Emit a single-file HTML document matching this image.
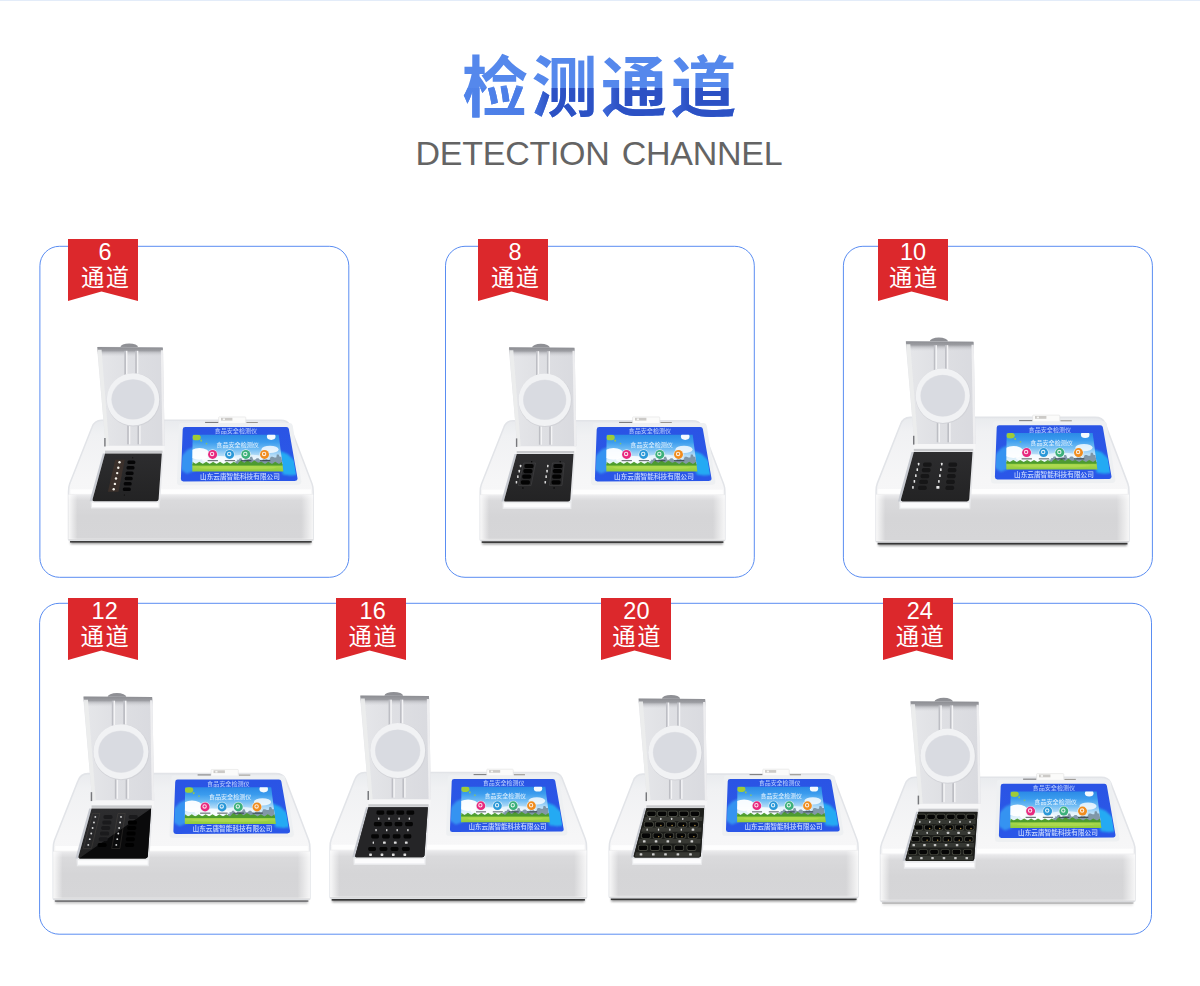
<!DOCTYPE html>
<html lang="zh"><head><meta charset="utf-8"><title>检测通道 DETECTION CHANNEL</title>
<style>
html,body{margin:0;padding:0;background:#fff}
body{width:1200px;height:986px;position:relative;overflow:hidden;font-family:"Liberation Sans",sans-serif}
#topline{position:absolute;left:0;top:0;width:1200px;height:1px;background:#e3ecf9}
#art{position:absolute;left:0;top:0;width:1200px;height:986px}
h1{position:absolute;left:462px;top:45px;width:276px;height:80px;margin:0;font-size:66px;line-height:80px;letter-spacing:3.5px;color:transparent;font-weight:bold;white-space:nowrap;overflow:hidden}
h2{position:absolute;left:0;top:133.5px;width:1200px;height:38px;margin:0;font-weight:normal;font-size:34px;line-height:38px;letter-spacing:-0.28px;color:#646464;white-space:nowrap}
h2 span{position:absolute;top:0}
.tn{position:absolute;width:70px;height:26px;text-align:center;color:#fff;font-size:23.5px;line-height:27px;padding-left:4px;box-sizing:border-box}
.tc{position:absolute;width:70px;height:26px;text-align:center;color:transparent;font-size:23px;line-height:26px;overflow:hidden;white-space:nowrap}
</style></head><body>
<div id="topline"></div>
<svg id="art" width="1200" height="986" viewBox="0 0 1200 986"><defs><linearGradient id="tg0" gradientUnits="userSpaceOnUse" x1="462.1" y1="0" x2="528.1" y2="0"><stop offset="0" stop-color="#5084ea"/><stop offset="1" stop-color="#4b7ce6"/><stop offset="1" stop-color="#4b7ce6"/></linearGradient><linearGradient id="tg1" gradientUnits="userSpaceOnUse" x1="531.6" y1="0" x2="597.6" y2="0"><stop offset="0" stop-color="#4776e2"/><stop offset="0.27" stop-color="#2c51c4"/><stop offset="1" stop-color="#2c51c4"/></linearGradient><linearGradient id="tg2" gradientUnits="userSpaceOnUse" x1="601.1" y1="0" x2="667.1" y2="0"><stop offset="0" stop-color="#416cdc"/><stop offset="0.27" stop-color="#2c51c4"/><stop offset="1" stop-color="#2c51c4"/></linearGradient><linearGradient id="tg3" gradientUnits="userSpaceOnUse" x1="670.6" y1="0" x2="736.6" y2="0"><stop offset="0" stop-color="#3e68da"/><stop offset="0.27" stop-color="#2c51c4"/><stop offset="1" stop-color="#2c51c4"/></linearGradient><clipPath id="tlow"><rect x="440" y="88" width="320" height="40"/></clipPath></defs><g font-family="&quot;Liberation Sans&quot;, &quot;Noto Sans CJK SC&quot;, sans-serif" font-size="66" font-weight="bold" fill="#5588ec"><text x="462.1" y="111.3">检</text><text x="531.6" y="111.3">测</text><text x="601.1" y="111.3">通</text><text x="670.6" y="111.3">道</text></g><g clip-path="url(#tlow)" font-family="&quot;Liberation Sans&quot;, &quot;Noto Sans CJK SC&quot;, sans-serif" font-size="66" font-weight="bold"><text x="462.1" y="111.3" fill="url(#tg0)">检</text><text x="531.6" y="111.3" fill="url(#tg1)">测</text><text x="601.1" y="111.3" fill="url(#tg2)">通</text><text x="670.6" y="111.3" fill="url(#tg3)">道</text></g>
<rect x="39.9" y="246.3" width="308.90000000000003" height="330.99999999999994" rx="19.5" ry="19.5" fill="none" stroke="#5a8df2" stroke-width="1"/>
<rect x="445.5" y="246.3" width="308.79999999999995" height="330.99999999999994" rx="19.5" ry="19.5" fill="none" stroke="#5a8df2" stroke-width="1"/>
<rect x="843.4" y="246.3" width="309.0000000000001" height="330.99999999999994" rx="19.5" ry="19.5" fill="none" stroke="#5a8df2" stroke-width="1"/>
<rect x="39.6" y="603.3" width="1111.9" height="330.9000000000001" rx="19.5" ry="19.5" fill="none" stroke="#5a8df2" stroke-width="1"/>
<defs>
<linearGradient id="gFront" x1="0" y1="0" x2="0" y2="1"><stop offset="0" stop-color="#fafafa"/><stop offset="0.06" stop-color="#e8e8ea"/><stop offset="0.16" stop-color="#dadadc"/><stop offset="0.5" stop-color="#d5d5d7"/><stop offset="0.95" stop-color="#d6d6d8"/><stop offset="0.975" stop-color="#e4e4e5"/><stop offset="1" stop-color="#cfcfd1"/></linearGradient>
<linearGradient id="gEdgeL" x1="0" y1="0" x2="1" y2="0"><stop offset="0" stop-color="#fff" stop-opacity="0.85"/><stop offset="1" stop-color="#fff" stop-opacity="0"/></linearGradient>
<linearGradient id="gEdgeR" x1="0" y1="0" x2="1" y2="0"><stop offset="0" stop-color="#fff" stop-opacity="0"/><stop offset="1" stop-color="#fff" stop-opacity="0.8"/></linearGradient>
<linearGradient id="gTop" x1="0" y1="0" x2="0" y2="1"><stop offset="0" stop-color="#e9ebee"/><stop offset="0.12" stop-color="#f0f1f3"/><stop offset="0.5" stop-color="#f6f6f7"/><stop offset="0.8" stop-color="#f8f8f9"/><stop offset="1" stop-color="#fdfdfd"/></linearGradient>
<linearGradient id="gLid" x1="0" y1="0" x2="1" y2="0"><stop offset="0" stop-color="#e6e7ea"/><stop offset="0.5" stop-color="#dedfe3"/><stop offset="1" stop-color="#d9dadf"/></linearGradient>
<linearGradient id="gWell" x1="0" y1="0" x2="0" y2="1"><stop offset="0" stop-color="#2d2d2f"/><stop offset="1" stop-color="#232324"/></linearGradient>
<linearGradient id="gSky" x1="0" y1="0" x2="0" y2="1"><stop offset="0" stop-color="#2b8ae6"/><stop offset="0.2" stop-color="#3b9cee"/><stop offset="0.38" stop-color="#6cbaf3"/><stop offset="0.55" stop-color="#aed9f7"/><stop offset="0.7" stop-color="#def0fa"/><stop offset="0.78" stop-color="#e6f4f8"/><stop offset="0.8" stop-color="#78be34"/><stop offset="0.87" stop-color="#a6d64a"/><stop offset="1" stop-color="#8ecb3c"/></linearGradient>
<linearGradient id="gBlue" x1="0" y1="0" x2="0" y2="1"><stop offset="0" stop-color="#2a54e5"/><stop offset="0.5" stop-color="#2b57e6"/><stop offset="1" stop-color="#2a56e8"/></linearGradient>
<linearGradient id="gLidTop" x1="0" y1="0" x2="0" y2="1"><stop offset="0" stop-color="#8c8d92"/><stop offset="0.38" stop-color="#9c9da2"/><stop offset="0.55" stop-color="#b9babf" stop-opacity="0.8"/><stop offset="1" stop-color="#dcdde1" stop-opacity="0"/></linearGradient>
<filter id="b1" x="-20%" y="-20%" width="140%" height="140%"><feGaussianBlur stdDeviation="0.6"/></filter>
<filter id="b2" x="-20%" y="-50%" width="140%" height="200%"><feGaussianBlur stdDeviation="1.1"/></filter>
<filter id="b05" x="-20%" y="-20%" width="140%" height="140%"><feGaussianBlur stdDeviation="0.35"/></filter>
</defs><g transform="matrix(1 0 0 1 0 0)"><rect x="70.5" y="539.9" width="240.7" height="4.2" fill="#444" filter="url(#b2)" opacity="0.51"/><rect x="70.0" y="540.3" width="241.7" height="2.3" fill="#1c1c1e" filter="url(#b1)" opacity="0.77"/><path d="M101.5,420.3 L280.5,420.3 Q287.5,420.3 289.7,425.3 L312.0,483.8 Q313.2,486.8 313.2,491.8 L313.2,539.2 Q313.2,540.2 312.2,540.2 L69.5,540.2 Q68.5,540.2 68.5,539.2 L68.5,491.8 Q68.5,486.8 69.7,483.8 L92.0,427.3 Q94.5,420.3 101.5,420.3 Z" fill="url(#gTop)" stroke="#e2e4e8" stroke-width="1.5"/><path d="M68.5,495.8 Q68.5,492.8 72.5,492.8 L309.2,492.8 Q313.2,492.8 313.2,495.8 L313.2,539.4 Q313.2,540.2 312.2,540.2 L69.5,540.2 Q68.5,540.2 68.5,539.4 Z" fill="url(#gFront)"/><rect x="68.5" y="494.8" width="9" height="44.4" fill="url(#gEdgeL)"/><rect x="301.2" y="494.8" width="12" height="44.4" fill="url(#gEdgeR)"/><rect x="70.5" y="489.3" width="240.7" height="4.5" fill="#fff" opacity="0.9" filter="url(#b1)"/></g><g transform="translate(0 0) scale(1)"><rect x="205.1" y="421.9" width="13.5" height="1.5" fill="#7e7e80" filter="url(#b05)"/><rect x="246.4" y="422.2" width="11.4" height="1.6" fill="#86827a" filter="url(#b05)"/><rect x="218.6" y="416.9" width="27.2" height="7.2" rx="0.8" fill="#fbfbfa" stroke="#dcdcdc" stroke-width="0.5"/><rect x="221.0" y="417.8" width="11.4" height="2.8" fill="#b9b6b2" opacity="0.7" filter="url(#b05)"/><rect x="222.8" y="418.4" width="2.2" height="1.7" fill="#f6f6f4"/><polygon points="181.8,426.1 289.8,426.1 298.4,481.8 180.0,482.3" fill="#eef0f2" stroke="#eef0f2" stroke-width="6.0" stroke-linejoin="round"/><polygon points="185.2,429.5 286.4,429.5 295.0,478.4 183.4,478.9" fill="url(#gBlue)" stroke="url(#gBlue)" stroke-width="5.0" stroke-linejoin="round"/><clipPath id="c0"><polygon points="183.3,427.6 288.3,427.6 296.9,480.3 181.5,480.8"/></clipPath><g clip-path="url(#c0)" filter="url(#b2)"><polygon points="180.2,469.4 180.6,456.9 187.5,449.8 195.2,446.6 195.0,470.5 186.9,473.8" fill="#3aa2f4" opacity="0.8"/><polygon points="279.4,450.7 287.6,454.0 296.8,462.6 298.8,474.4 290.9,475.5 282.6,474.5" fill="#25b4f4" opacity="0.9"/></g><clipPath id="p0"><polygon points="192.6,434.8 278.7,434.8 283.4,471.4 192.3,471.4"/></clipPath><polygon points="192.6,434.8 278.7,434.8 283.4,471.4 192.3,471.4" fill="url(#gSky)"/><g clip-path="url(#p0)"><ellipse cx="199.5" cy="453.8" rx="10.3" ry="5.9" fill="#ffffff" opacity="0.95" filter="url(#b1)"/><ellipse cx="219.2" cy="459.7" rx="17.2" ry="3.7" fill="#ffffff" opacity="0.8" filter="url(#b1)"/><ellipse cx="247.7" cy="457.5" rx="17.2" ry="2.9" fill="#ffffff" opacity="0.6" filter="url(#b1)"/><ellipse cx="270.0" cy="449.4" rx="8.6" ry="3.7" fill="#ffffff" opacity="0.8" filter="url(#b1)"/><ellipse cx="271.2" cy="436.6" rx="4.3" ry="3.3" fill="#ffffff" opacity="0.95" filter="url(#b1)"/><ellipse cx="196.5" cy="437.4" rx="4.3" ry="2.9" fill="#a6cf2e" opacity="0.95" filter="url(#b05)"/><ellipse cx="201.2" cy="440.7" rx="1.0" ry="1.1" fill="#9ccc3c" opacity="0.8" filter="url(#b05)"/><ellipse cx="206.5" cy="443.6" rx="0.9" ry="0.9" fill="#9ccc3c" opacity="0.7" filter="url(#b05)"/><polygon points="235.7,464.8 235.4,461.2 237.2,461.2 237.1,459.7 238.9,459.7 239.7,458.2 241.5,458.2 242.6,460.4 244.4,460.4 244.9,456.0 246.7,456.0 247.8,459.0 249.6,459.0 250.3,456.8 252.1,456.8 253.3,459.7 255.0,459.7 256.7,458.2 258.5,458.2 260.5,460.4 262.3,460.4 263.8,457.5 265.6,457.5 267.6,459.7 269.4,459.7 270.8,456.8 272.6,456.8 274.5,457.5 276.3,457.5 276.8,454.6 278.6,454.6 279.7,456.8 281.5,456.8 282.6,464.8" fill="#71889a" opacity="0.85"/><polygon points="192.3,465.5 192.4,461.7 195.8,463.9 199.3,461.7 202.8,463.9 206.2,461.7 209.7,463.9 213.1,461.7 216.6,463.9 220.0,461.7 223.5,463.9 226.9,461.7 230.5,463.9 233.8,461.7 237.4,463.9 240.6,460.6 244.3,462.8 247.5,460.6 251.2,462.8 254.4,460.6 258.1,462.8 261.4,461.7 265.1,463.9 268.3,461.7 272.0,463.9 275.2,461.7 279.0,463.9 282.2,461.7 282.6,465.5" fill="#4a9a2c" opacity="0.95"/><ellipse cx="237.6" cy="467.7" rx="38.7" ry="1.8" fill="#b4dc54" opacity="0.6" filter="url(#b1)"/><circle cx="212.6" cy="454.4" r="5.15" fill="#eaf3f8" opacity="0.85"/><circle cx="212.6" cy="454.4" r="4.48" fill="#e8287e"/><circle cx="212.1" cy="453.9" r="1.70" fill="none" stroke="#fff" stroke-width="1.07" opacity="0.85"/><rect x="207.6" y="460.1" width="10.3" height="1.1" fill="#1d2a30" opacity="0.7"/><circle cx="229.6" cy="454.4" r="5.15" fill="#eaf3f8" opacity="0.85"/><circle cx="229.6" cy="454.4" r="4.48" fill="#2a98d8"/><circle cx="229.2" cy="453.9" r="1.70" fill="none" stroke="#fff" stroke-width="1.07" opacity="0.85"/><rect x="224.8" y="460.1" width="10.3" height="1.1" fill="#1d2a30" opacity="0.7"/><circle cx="245.8" cy="454.4" r="5.15" fill="#eaf3f8" opacity="0.85"/><circle cx="245.8" cy="454.4" r="4.48" fill="#3cb07a"/><circle cx="245.3" cy="453.9" r="1.70" fill="none" stroke="#fff" stroke-width="1.07" opacity="0.85"/><rect x="241.1" y="460.1" width="10.3" height="1.1" fill="#1d2a30" opacity="0.7"/><circle cx="264.5" cy="454.4" r="5.15" fill="#eaf3f8" opacity="0.85"/><circle cx="264.5" cy="454.4" r="4.48" fill="#f08c1e"/><circle cx="264.1" cy="453.9" r="1.70" fill="none" stroke="#fff" stroke-width="1.07" opacity="0.85"/><rect x="260.0" y="460.1" width="10.3" height="1.1" fill="#1d2a30" opacity="0.7"/></g><text transform="translate(214.55 433.40)" font-family="&quot;Liberation Sans&quot;, &quot;Noto Sans CJK SC&quot;, sans-serif" font-size="6.1" font-weight="500" fill="#c4d8ff" opacity="0.85" filter="url(#b05)">食品安全检测仪</text><text transform="translate(216.29 446.88)" font-family="&quot;Liberation Sans&quot;, &quot;Noto Sans CJK SC&quot;, sans-serif" font-size="6.1" font-weight="500" fill="#f4faff" opacity="0.8" filter="url(#b05)">食品安全检测仪</text><text transform="translate(200.00 478.70)" font-family="&quot;Liberation Sans&quot;, &quot;Noto Sans CJK SC&quot;, sans-serif" font-size="6.67" font-weight="500" fill="#dbe7ff" opacity="0.9" filter="url(#b05)">山东云唐智能科技有限公司</text></g><g transform="matrix(1 0 0 1 0 0)"><polygon points="90.5,499.2 160.1,499.2 159.6,508.6 91.0,508.6" fill="#e9eaec" filter="url(#b1)"/><polygon points="92.0,502.8 158.6,502.8 158.6,507.2 92.0,507.2" fill="#fcfcfd" filter="url(#b05)"/><polygon points="102.8,453.5 105.0,453.5 92.0,501.2 89.6,501.2" fill="#c6c9d0"/><polygon points="161.8,453.5 163.4,453.5 160.2,501.2 158.6,501.2" fill="#e6e7ea"/><path d="M105.0,453.5 L161.8,453.5 L158.6,499.2 Q158.4,501.2 156.4,501.2 L94.0,501.2 Q92.0,501.2 92.6,499.2 Z" fill="url(#gWell)"/><polygon points="115.2,459.7 124.8,459.7 118.5,491.7 107.9,491.7" fill="#3b302b"/><circle cx="119.5" cy="462.3" r="1.2" fill="#f5f1ea" opacity="1"/><rect x="127.4" y="460.6" width="8.0" height="3.5" rx="1.5" fill="#050506" opacity="1"/><circle cx="118.3" cy="467.7" r="1.2" fill="#f5f1ea" opacity="1"/><rect x="126.5" y="466.0" width="8.0" height="3.5" rx="1.5" fill="#050506" opacity="1"/><circle cx="117.2" cy="473.1" r="1.2" fill="#f5f1ea" opacity="1"/><rect x="125.6" y="471.4" width="8.0" height="3.5" rx="1.5" fill="#050506" opacity="1"/><circle cx="116.0" cy="478.5" r="1.2" fill="#f5f1ea" opacity="1"/><rect x="124.7" y="476.7" width="8.0" height="3.5" rx="1.5" fill="#050506" opacity="1"/><circle cx="114.9" cy="483.9" r="1.2" fill="#f5f1ea" opacity="1"/><rect x="123.7" y="482.1" width="8.0" height="3.5" rx="1.5" fill="#050506" opacity="1"/><circle cx="113.7" cy="489.3" r="1.2" fill="#f5f1ea" opacity="1"/><rect x="122.8" y="487.5" width="8.0" height="3.5" rx="1.5" fill="#050506" opacity="1"/><circle cx="132.7" cy="457.8" r="0.5" fill="#0a0a0a" opacity="1"/><circle cx="124.4" cy="495.0" r="0.6" fill="#0a0a0a" opacity="1"/><polygon points="105.3,444.5 164.6,444.5 164.2,452.6 105.0,452.6" fill="#f6f6f7"/><rect x="105" y="450.6" width="57.5" height="2.4" fill="#c9cacd" filter="url(#b05)"/><ellipse cx="129.2" cy="347.4" rx="8.9" ry="4.0" fill="#8f9095"/><path d="M97.1,348.3 Q97.1,346.8 98.6,346.8 L161.5,347.3 Q163.0,347.3 163.0,348.8 L164.7,445.8 L105.6,445.8 Z" fill="url(#gLid)"/><polygon points="97.3,346.9 162.8,347.4 163.2,356.8 98.1,356.3" fill="url(#gLidTop)"/><polygon points="97.6,349.8 101.6,349.8 109.1,445.8 105.6,445.8" fill="#eceded" opacity="0.9"/><polygon points="160.8,350.3 163.0,350.3 164.7,445.8 162.5,445.8" fill="#f0f0f2" opacity="0.9"/><rect x="124.3" y="350.8" width="1.7" height="25.4" fill="#bdbec4"/><rect x="126.0" y="350.8" width="1.4" height="25.4" fill="#f4f4f6"/><rect x="135.2" y="350.8" width="1.7" height="25.4" fill="#bdbec4"/><rect x="136.9" y="350.8" width="1.4" height="25.4" fill="#f4f4f6"/><rect x="127.2" y="424.1" width="1.7" height="20.2" fill="#bdbec4"/><rect x="128.9" y="424.1" width="1.4" height="20.2" fill="#f4f4f6"/><rect x="137.5" y="424.1" width="1.7" height="20.2" fill="#bdbec4"/><rect x="139.2" y="424.1" width="1.4" height="20.2" fill="#f4f4f6"/><ellipse cx="133.4" cy="399.9" rx="26.7" ry="26.7" fill="#d2d3d8"/><ellipse cx="133.0" cy="399.4" rx="26.2" ry="26.2" fill="#f1f2f4"/><ellipse cx="133.0" cy="399.4" rx="21.7" ry="20.2" fill="#e4e5e9"/><ellipse cx="133.0" cy="399.4" rx="21.3" ry="19.8" fill="#d9dbe1"/><rect x="104.2" y="438" width="1.4" height="8.5" fill="#77787c"/></g><g transform="matrix(1 0 0 1 411.7 0.4)"><rect x="70.5" y="539.9" width="240.7" height="4.2" fill="#444" filter="url(#b2)" opacity="0.51"/><rect x="70.0" y="540.3" width="241.7" height="2.3" fill="#1c1c1e" filter="url(#b1)" opacity="0.77"/><path d="M101.5,420.3 L280.5,420.3 Q287.5,420.3 289.7,425.3 L312.0,483.8 Q313.2,486.8 313.2,491.8 L313.2,539.2 Q313.2,540.2 312.2,540.2 L69.5,540.2 Q68.5,540.2 68.5,539.2 L68.5,491.8 Q68.5,486.8 69.7,483.8 L92.0,427.3 Q94.5,420.3 101.5,420.3 Z" fill="url(#gTop)" stroke="#e2e4e8" stroke-width="1.5"/><path d="M68.5,495.8 Q68.5,492.8 72.5,492.8 L309.2,492.8 Q313.2,492.8 313.2,495.8 L313.2,539.4 Q313.2,540.2 312.2,540.2 L69.5,540.2 Q68.5,540.2 68.5,539.4 Z" fill="url(#gFront)"/><rect x="68.5" y="494.8" width="9" height="44.4" fill="url(#gEdgeL)"/><rect x="301.2" y="494.8" width="12" height="44.4" fill="url(#gEdgeR)"/><rect x="70.5" y="489.3" width="240.7" height="4.5" fill="#fff" opacity="0.9" filter="url(#b1)"/></g><g transform="translate(414 0) scale(1)"><rect x="205.1" y="421.9" width="13.5" height="1.5" fill="#7e7e80" filter="url(#b05)"/><rect x="246.4" y="422.2" width="11.4" height="1.6" fill="#86827a" filter="url(#b05)"/><rect x="218.6" y="416.9" width="27.2" height="7.2" rx="0.8" fill="#fbfbfa" stroke="#dcdcdc" stroke-width="0.5"/><rect x="221.0" y="417.8" width="11.4" height="2.8" fill="#b9b6b2" opacity="0.7" filter="url(#b05)"/><rect x="222.8" y="418.4" width="2.2" height="1.7" fill="#f6f6f4"/><polygon points="181.8,426.1 289.8,426.1 298.4,481.8 180.0,482.3" fill="#eef0f2" stroke="#eef0f2" stroke-width="6.0" stroke-linejoin="round"/><polygon points="185.2,429.5 286.4,429.5 295.0,478.4 183.4,478.9" fill="url(#gBlue)" stroke="url(#gBlue)" stroke-width="5.0" stroke-linejoin="round"/><clipPath id="c1"><polygon points="183.3,427.6 288.3,427.6 296.9,480.3 181.5,480.8"/></clipPath><g clip-path="url(#c1)" filter="url(#b2)"><polygon points="180.2,469.4 180.6,456.9 187.5,449.8 195.2,446.6 195.0,470.5 186.9,473.8" fill="#3aa2f4" opacity="0.8"/><polygon points="279.4,450.7 287.6,454.0 296.8,462.6 298.8,474.4 290.9,475.5 282.6,474.5" fill="#25b4f4" opacity="0.9"/></g><clipPath id="p1"><polygon points="192.6,434.8 278.7,434.8 283.4,471.4 192.3,471.4"/></clipPath><polygon points="192.6,434.8 278.7,434.8 283.4,471.4 192.3,471.4" fill="url(#gSky)"/><g clip-path="url(#p1)"><ellipse cx="199.5" cy="453.8" rx="10.3" ry="5.9" fill="#ffffff" opacity="0.95" filter="url(#b1)"/><ellipse cx="219.2" cy="459.7" rx="17.2" ry="3.7" fill="#ffffff" opacity="0.8" filter="url(#b1)"/><ellipse cx="247.7" cy="457.5" rx="17.2" ry="2.9" fill="#ffffff" opacity="0.6" filter="url(#b1)"/><ellipse cx="270.0" cy="449.4" rx="8.6" ry="3.7" fill="#ffffff" opacity="0.8" filter="url(#b1)"/><ellipse cx="271.2" cy="436.6" rx="4.3" ry="3.3" fill="#ffffff" opacity="0.95" filter="url(#b1)"/><ellipse cx="196.5" cy="437.4" rx="4.3" ry="2.9" fill="#a6cf2e" opacity="0.95" filter="url(#b05)"/><ellipse cx="201.2" cy="440.7" rx="1.0" ry="1.1" fill="#9ccc3c" opacity="0.8" filter="url(#b05)"/><ellipse cx="206.5" cy="443.6" rx="0.9" ry="0.9" fill="#9ccc3c" opacity="0.7" filter="url(#b05)"/><polygon points="235.7,464.8 235.4,461.2 237.2,461.2 237.1,459.7 238.9,459.7 239.7,458.2 241.5,458.2 242.6,460.4 244.4,460.4 244.9,456.0 246.7,456.0 247.8,459.0 249.6,459.0 250.3,456.8 252.1,456.8 253.3,459.7 255.0,459.7 256.7,458.2 258.5,458.2 260.5,460.4 262.3,460.4 263.8,457.5 265.6,457.5 267.6,459.7 269.4,459.7 270.8,456.8 272.6,456.8 274.5,457.5 276.3,457.5 276.8,454.6 278.6,454.6 279.7,456.8 281.5,456.8 282.6,464.8" fill="#71889a" opacity="0.85"/><polygon points="192.3,465.5 192.4,461.7 195.8,463.9 199.3,461.7 202.8,463.9 206.2,461.7 209.7,463.9 213.1,461.7 216.6,463.9 220.0,461.7 223.5,463.9 226.9,461.7 230.5,463.9 233.8,461.7 237.4,463.9 240.6,460.6 244.3,462.8 247.5,460.6 251.2,462.8 254.4,460.6 258.1,462.8 261.4,461.7 265.1,463.9 268.3,461.7 272.0,463.9 275.2,461.7 279.0,463.9 282.2,461.7 282.6,465.5" fill="#4a9a2c" opacity="0.95"/><ellipse cx="237.6" cy="467.7" rx="38.7" ry="1.8" fill="#b4dc54" opacity="0.6" filter="url(#b1)"/><circle cx="212.6" cy="454.4" r="5.15" fill="#eaf3f8" opacity="0.85"/><circle cx="212.6" cy="454.4" r="4.48" fill="#e8287e"/><circle cx="212.1" cy="453.9" r="1.70" fill="none" stroke="#fff" stroke-width="1.07" opacity="0.85"/><rect x="207.6" y="460.1" width="10.3" height="1.1" fill="#1d2a30" opacity="0.7"/><circle cx="229.6" cy="454.4" r="5.15" fill="#eaf3f8" opacity="0.85"/><circle cx="229.6" cy="454.4" r="4.48" fill="#2a98d8"/><circle cx="229.2" cy="453.9" r="1.70" fill="none" stroke="#fff" stroke-width="1.07" opacity="0.85"/><rect x="224.8" y="460.1" width="10.3" height="1.1" fill="#1d2a30" opacity="0.7"/><circle cx="245.8" cy="454.4" r="5.15" fill="#eaf3f8" opacity="0.85"/><circle cx="245.8" cy="454.4" r="4.48" fill="#3cb07a"/><circle cx="245.3" cy="453.9" r="1.70" fill="none" stroke="#fff" stroke-width="1.07" opacity="0.85"/><rect x="241.1" y="460.1" width="10.3" height="1.1" fill="#1d2a30" opacity="0.7"/><circle cx="264.5" cy="454.4" r="5.15" fill="#eaf3f8" opacity="0.85"/><circle cx="264.5" cy="454.4" r="4.48" fill="#f08c1e"/><circle cx="264.1" cy="453.9" r="1.70" fill="none" stroke="#fff" stroke-width="1.07" opacity="0.85"/><rect x="260.0" y="460.1" width="10.3" height="1.1" fill="#1d2a30" opacity="0.7"/></g><text transform="translate(214.55 433.40)" font-family="&quot;Liberation Sans&quot;, &quot;Noto Sans CJK SC&quot;, sans-serif" font-size="6.1" font-weight="500" fill="#c4d8ff" opacity="0.85" filter="url(#b05)">食品安全检测仪</text><text transform="translate(216.29 446.88)" font-family="&quot;Liberation Sans&quot;, &quot;Noto Sans CJK SC&quot;, sans-serif" font-size="6.1" font-weight="500" fill="#f4faff" opacity="0.8" filter="url(#b05)">食品安全检测仪</text><text transform="translate(200.00 478.70)" font-family="&quot;Liberation Sans&quot;, &quot;Noto Sans CJK SC&quot;, sans-serif" font-size="6.67" font-weight="500" fill="#dbe7ff" opacity="0.9" filter="url(#b05)">山东云唐智能科技有限公司</text></g><g transform="matrix(1 0 0 1 411.7 0.4)"><polygon points="90.5,499.2 160.1,499.2 159.6,508.6 91.0,508.6" fill="#e9eaec" filter="url(#b1)"/><polygon points="92.0,502.8 158.6,502.8 158.6,507.2 92.0,507.2" fill="#fcfcfd" filter="url(#b05)"/><polygon points="102.8,453.5 105.0,453.5 92.0,501.2 89.6,501.2" fill="#c6c9d0"/><polygon points="161.8,453.5 163.4,453.5 160.2,501.2 158.6,501.2" fill="#e6e7ea"/><path d="M105.0,453.5 L161.8,453.5 L158.6,499.2 Q158.4,501.2 156.4,501.2 L94.0,501.2 Q92.0,501.2 92.6,499.2 Z" fill="url(#gWell)"/><polygon points="112.1,462.6 123.8,462.6 119.4,485.0 106.7,485.0" fill="none" stroke="#4a4a4c" stroke-width="0.5"/><rect x="112.8" y="463.5" width="9.0" height="4.2" rx="1.6" fill="#030303" opacity="1"/><rect x="108.1" y="464.3" width="1.5" height="2.6" rx="0.5" fill="#f2f2f2" opacity="0.9"/><rect x="111.7" y="468.6" width="9.0" height="4.2" rx="1.6" fill="#030303" opacity="1"/><rect x="106.8" y="469.4" width="1.5" height="2.6" rx="0.5" fill="#f2f2f2" opacity="0.9"/><rect x="110.5" y="474.1" width="9.0" height="4.2" rx="1.6" fill="#030303" opacity="1"/><rect x="105.4" y="474.9" width="1.5" height="2.6" rx="0.5" fill="#f2f2f2" opacity="0.9"/><rect x="109.2" y="479.8" width="9.0" height="4.2" rx="1.6" fill="#030303" opacity="1"/><rect x="104.0" y="480.6" width="1.5" height="2.6" rx="0.5" fill="#f2f2f2" opacity="0.9"/><circle cx="120.0" cy="461.4" r="0.7" fill="#050505" opacity="1"/><circle cx="111.2" cy="487.6" r="0.8" fill="#050505" opacity="1"/><polygon points="140.8,462.6 152.5,462.6 150.3,485.0 137.7,485.0" fill="none" stroke="#4a4a4c" stroke-width="0.5"/><rect x="141.8" y="463.5" width="9.0" height="4.2" rx="1.6" fill="#030303" opacity="1"/><rect x="135.3" y="464.3" width="1.5" height="2.6" rx="0.5" fill="#f2f2f2" opacity="0.9"/><rect x="141.2" y="468.6" width="9.0" height="4.2" rx="1.6" fill="#030303" opacity="1"/><rect x="134.6" y="469.4" width="1.5" height="2.6" rx="0.5" fill="#f2f2f2" opacity="0.9"/><rect x="140.5" y="474.1" width="9.0" height="4.2" rx="1.6" fill="#030303" opacity="1"/><rect x="133.7" y="474.9" width="1.5" height="2.6" rx="0.5" fill="#f2f2f2" opacity="0.9"/><rect x="139.9" y="479.8" width="9.0" height="4.2" rx="1.6" fill="#030303" opacity="1"/><rect x="132.8" y="480.6" width="1.5" height="2.6" rx="0.5" fill="#f2f2f2" opacity="0.9"/><circle cx="148.5" cy="461.4" r="0.7" fill="#050505" opacity="1"/><circle cx="142.4" cy="487.6" r="0.8" fill="#050505" opacity="1"/><polygon points="105.3,444.5 164.6,444.5 164.2,452.6 105.0,452.6" fill="#f6f6f7"/><rect x="105" y="450.6" width="57.5" height="2.4" fill="#c9cacd" filter="url(#b05)"/><ellipse cx="129.2" cy="347.4" rx="8.9" ry="4.0" fill="#8f9095"/><path d="M97.1,348.3 Q97.1,346.8 98.6,346.8 L161.5,347.3 Q163.0,347.3 163.0,348.8 L164.7,445.8 L105.6,445.8 Z" fill="url(#gLid)"/><polygon points="97.3,346.9 162.8,347.4 163.2,356.8 98.1,356.3" fill="url(#gLidTop)"/><polygon points="97.6,349.8 101.6,349.8 109.1,445.8 105.6,445.8" fill="#eceded" opacity="0.9"/><polygon points="160.8,350.3 163.0,350.3 164.7,445.8 162.5,445.8" fill="#f0f0f2" opacity="0.9"/><rect x="124.3" y="350.8" width="1.7" height="25.4" fill="#bdbec4"/><rect x="126.0" y="350.8" width="1.4" height="25.4" fill="#f4f4f6"/><rect x="135.2" y="350.8" width="1.7" height="25.4" fill="#bdbec4"/><rect x="136.9" y="350.8" width="1.4" height="25.4" fill="#f4f4f6"/><rect x="127.2" y="424.1" width="1.7" height="20.2" fill="#bdbec4"/><rect x="128.9" y="424.1" width="1.4" height="20.2" fill="#f4f4f6"/><rect x="137.5" y="424.1" width="1.7" height="20.2" fill="#bdbec4"/><rect x="139.2" y="424.1" width="1.4" height="20.2" fill="#f4f4f6"/><ellipse cx="133.4" cy="399.9" rx="26.7" ry="26.7" fill="#d2d3d8"/><ellipse cx="133.0" cy="399.4" rx="26.2" ry="26.2" fill="#f1f2f4"/><ellipse cx="133.0" cy="399.4" rx="21.7" ry="20.2" fill="#e4e5e9"/><ellipse cx="133.0" cy="399.4" rx="21.3" ry="19.8" fill="#d9dbe1"/><rect x="104.2" y="438" width="1.4" height="8.5" fill="#77787c"/></g><g transform="matrix(1.0335 0 0 1.039 805.3 -19.3)"><rect x="70.5" y="539.9" width="240.7" height="4.2" fill="#444" filter="url(#b2)" opacity="0.54"/><rect x="70.0" y="540.3" width="241.7" height="2.3" fill="#1c1c1e" filter="url(#b1)" opacity="0.81"/><path d="M101.5,420.3 L280.5,420.3 Q287.5,420.3 289.7,425.3 L312.0,483.8 Q313.2,486.8 313.2,491.8 L313.2,539.2 Q313.2,540.2 312.2,540.2 L69.5,540.2 Q68.5,540.2 68.5,539.2 L68.5,491.8 Q68.5,486.8 69.7,483.8 L92.0,427.3 Q94.5,420.3 101.5,420.3 Z" fill="url(#gTop)" stroke="#e2e4e8" stroke-width="1.5"/><path d="M68.5,495.8 Q68.5,492.8 72.5,492.8 L309.2,492.8 Q313.2,492.8 313.2,495.8 L313.2,539.4 Q313.2,540.2 312.2,540.2 L69.5,540.2 Q68.5,540.2 68.5,539.4 Z" fill="url(#gFront)"/><rect x="68.5" y="494.8" width="9" height="44.4" fill="url(#gEdgeL)"/><rect x="301.2" y="494.8" width="12" height="44.4" fill="url(#gEdgeR)"/><rect x="70.5" y="489.3" width="240.7" height="4.5" fill="#fff" opacity="0.9" filter="url(#b1)"/></g><g transform="translate(814 -1.8) scale(1)"><rect x="205.1" y="421.9" width="13.5" height="1.5" fill="#7e7e80" filter="url(#b05)"/><rect x="246.4" y="422.2" width="11.4" height="1.6" fill="#86827a" filter="url(#b05)"/><rect x="218.6" y="416.9" width="27.2" height="7.2" rx="0.8" fill="#fbfbfa" stroke="#dcdcdc" stroke-width="0.5"/><rect x="221.0" y="417.8" width="11.4" height="2.8" fill="#b9b6b2" opacity="0.7" filter="url(#b05)"/><rect x="222.8" y="418.4" width="2.2" height="1.7" fill="#f6f6f4"/><polygon points="181.8,426.1 289.8,426.1 298.4,481.8 180.0,482.3" fill="#eef0f2" stroke="#eef0f2" stroke-width="6.0" stroke-linejoin="round"/><polygon points="185.2,429.5 286.4,429.5 295.0,478.4 183.4,478.9" fill="url(#gBlue)" stroke="url(#gBlue)" stroke-width="5.0" stroke-linejoin="round"/><clipPath id="c2"><polygon points="183.3,427.6 288.3,427.6 296.9,480.3 181.5,480.8"/></clipPath><g clip-path="url(#c2)" filter="url(#b2)"><polygon points="180.2,469.4 180.6,456.9 187.5,449.8 195.2,446.6 195.0,470.5 186.9,473.8" fill="#3aa2f4" opacity="0.8"/><polygon points="279.4,450.7 287.6,454.0 296.8,462.6 298.8,474.4 290.9,475.5 282.6,474.5" fill="#25b4f4" opacity="0.9"/></g><clipPath id="p2"><polygon points="192.6,434.8 278.7,434.8 283.4,471.4 192.3,471.4"/></clipPath><polygon points="192.6,434.8 278.7,434.8 283.4,471.4 192.3,471.4" fill="url(#gSky)"/><g clip-path="url(#p2)"><ellipse cx="199.5" cy="453.8" rx="10.3" ry="5.9" fill="#ffffff" opacity="0.95" filter="url(#b1)"/><ellipse cx="219.2" cy="459.7" rx="17.2" ry="3.7" fill="#ffffff" opacity="0.8" filter="url(#b1)"/><ellipse cx="247.7" cy="457.5" rx="17.2" ry="2.9" fill="#ffffff" opacity="0.6" filter="url(#b1)"/><ellipse cx="270.0" cy="449.4" rx="8.6" ry="3.7" fill="#ffffff" opacity="0.8" filter="url(#b1)"/><ellipse cx="271.2" cy="436.6" rx="4.3" ry="3.3" fill="#ffffff" opacity="0.95" filter="url(#b1)"/><ellipse cx="196.5" cy="437.4" rx="4.3" ry="2.9" fill="#a6cf2e" opacity="0.95" filter="url(#b05)"/><ellipse cx="201.2" cy="440.7" rx="1.0" ry="1.1" fill="#9ccc3c" opacity="0.8" filter="url(#b05)"/><ellipse cx="206.5" cy="443.6" rx="0.9" ry="0.9" fill="#9ccc3c" opacity="0.7" filter="url(#b05)"/><polygon points="235.7,464.8 235.4,461.2 237.2,461.2 237.1,459.7 238.9,459.7 239.7,458.2 241.5,458.2 242.6,460.4 244.4,460.4 244.9,456.0 246.7,456.0 247.8,459.0 249.6,459.0 250.3,456.8 252.1,456.8 253.3,459.7 255.0,459.7 256.7,458.2 258.5,458.2 260.5,460.4 262.3,460.4 263.8,457.5 265.6,457.5 267.6,459.7 269.4,459.7 270.8,456.8 272.6,456.8 274.5,457.5 276.3,457.5 276.8,454.6 278.6,454.6 279.7,456.8 281.5,456.8 282.6,464.8" fill="#71889a" opacity="0.85"/><polygon points="192.3,465.5 192.4,461.7 195.8,463.9 199.3,461.7 202.8,463.9 206.2,461.7 209.7,463.9 213.1,461.7 216.6,463.9 220.0,461.7 223.5,463.9 226.9,461.7 230.5,463.9 233.8,461.7 237.4,463.9 240.6,460.6 244.3,462.8 247.5,460.6 251.2,462.8 254.4,460.6 258.1,462.8 261.4,461.7 265.1,463.9 268.3,461.7 272.0,463.9 275.2,461.7 279.0,463.9 282.2,461.7 282.6,465.5" fill="#4a9a2c" opacity="0.95"/><ellipse cx="237.6" cy="467.7" rx="38.7" ry="1.8" fill="#b4dc54" opacity="0.6" filter="url(#b1)"/><circle cx="212.6" cy="454.4" r="5.15" fill="#eaf3f8" opacity="0.85"/><circle cx="212.6" cy="454.4" r="4.48" fill="#e8287e"/><circle cx="212.1" cy="453.9" r="1.70" fill="none" stroke="#fff" stroke-width="1.07" opacity="0.85"/><rect x="207.6" y="460.1" width="10.3" height="1.1" fill="#1d2a30" opacity="0.7"/><circle cx="229.6" cy="454.4" r="5.15" fill="#eaf3f8" opacity="0.85"/><circle cx="229.6" cy="454.4" r="4.48" fill="#2a98d8"/><circle cx="229.2" cy="453.9" r="1.70" fill="none" stroke="#fff" stroke-width="1.07" opacity="0.85"/><rect x="224.8" y="460.1" width="10.3" height="1.1" fill="#1d2a30" opacity="0.7"/><circle cx="245.8" cy="454.4" r="5.15" fill="#eaf3f8" opacity="0.85"/><circle cx="245.8" cy="454.4" r="4.48" fill="#3cb07a"/><circle cx="245.3" cy="453.9" r="1.70" fill="none" stroke="#fff" stroke-width="1.07" opacity="0.85"/><rect x="241.1" y="460.1" width="10.3" height="1.1" fill="#1d2a30" opacity="0.7"/><circle cx="264.5" cy="454.4" r="5.15" fill="#eaf3f8" opacity="0.85"/><circle cx="264.5" cy="454.4" r="4.48" fill="#f08c1e"/><circle cx="264.1" cy="453.9" r="1.70" fill="none" stroke="#fff" stroke-width="1.07" opacity="0.85"/><rect x="260.0" y="460.1" width="10.3" height="1.1" fill="#1d2a30" opacity="0.7"/></g><text transform="translate(214.55 433.40)" font-family="&quot;Liberation Sans&quot;, &quot;Noto Sans CJK SC&quot;, sans-serif" font-size="6.1" font-weight="500" fill="#c4d8ff" opacity="0.85" filter="url(#b05)">食品安全检测仪</text><text transform="translate(216.29 446.88)" font-family="&quot;Liberation Sans&quot;, &quot;Noto Sans CJK SC&quot;, sans-serif" font-size="6.1" font-weight="500" fill="#f4faff" opacity="0.8" filter="url(#b05)">食品安全检测仪</text><text transform="translate(200.00 478.70)" font-family="&quot;Liberation Sans&quot;, &quot;Noto Sans CJK SC&quot;, sans-serif" font-size="6.67" font-weight="500" fill="#dbe7ff" opacity="0.9" filter="url(#b05)">山东云唐智能科技有限公司</text></g><g transform="matrix(1.0335 0 0 1.039 805.3 -19.3)"><polygon points="90.5,499.2 160.1,499.2 159.6,508.6 91.0,508.6" fill="#e9eaec" filter="url(#b1)"/><polygon points="92.0,502.8 158.6,502.8 158.6,507.2 92.0,507.2" fill="#fcfcfd" filter="url(#b05)"/><polygon points="102.8,453.5 105.0,453.5 92.0,501.2 89.6,501.2" fill="#c6c9d0"/><polygon points="161.8,453.5 163.4,453.5 160.2,501.2 158.6,501.2" fill="#e6e7ea"/><path d="M105.0,453.5 L161.8,453.5 L158.6,499.2 Q158.4,501.2 156.4,501.2 L94.0,501.2 Q92.0,501.2 92.6,499.2 Z" fill="url(#gWell)"/><rect x="113.9" y="463.7" width="8.4" height="4.0" rx="1.6" fill="#161617" opacity="1"/><rect x="108.9" y="463.9" width="1.5" height="2.6" rx="0.5" fill="#f2f2f2" opacity="0.95"/><rect x="112.8" y="469.0" width="8.4" height="4.0" rx="1.6" fill="#161617" opacity="1"/><rect x="107.6" y="469.2" width="1.5" height="2.6" rx="0.5" fill="#f2f2f2" opacity="0.95"/><rect x="111.5" y="474.8" width="8.4" height="4.0" rx="1.6" fill="#161617" opacity="1"/><rect x="106.2" y="475.0" width="1.5" height="2.6" rx="0.5" fill="#f2f2f2" opacity="0.95"/><rect x="110.3" y="480.4" width="8.4" height="4.0" rx="1.6" fill="#161617" opacity="1"/><rect x="104.8" y="480.6" width="1.5" height="2.6" rx="0.5" fill="#f2f2f2" opacity="0.95"/><rect x="109.1" y="486.2" width="8.4" height="4.0" rx="1.6" fill="#161617" opacity="1"/><rect x="103.4" y="486.4" width="1.5" height="2.6" rx="0.5" fill="#f2f2f2" opacity="0.95"/><rect x="138.5" y="463.7" width="8.4" height="4.0" rx="1.6" fill="#161617" opacity="1"/><rect x="131.3" y="463.9" width="1.5" height="2.6" rx="0.5" fill="#f2f2f2" opacity="0.95"/><rect x="137.8" y="469.0" width="8.4" height="4.0" rx="1.6" fill="#161617" opacity="1"/><rect x="130.4" y="469.2" width="1.5" height="2.6" rx="0.5" fill="#f2f2f2" opacity="0.95"/><rect x="137.1" y="474.8" width="8.4" height="4.0" rx="1.6" fill="#161617" opacity="1"/><rect x="129.5" y="475.0" width="1.5" height="2.6" rx="0.5" fill="#f2f2f2" opacity="0.95"/><rect x="136.3" y="480.4" width="8.4" height="4.0" rx="1.6" fill="#161617" opacity="1"/><rect x="128.5" y="480.6" width="1.5" height="2.6" rx="0.5" fill="#f2f2f2" opacity="0.95"/><rect x="135.6" y="486.2" width="8.4" height="4.0" rx="1.6" fill="#161617" opacity="1"/><rect x="126.8" y="486.4" width="3.0" height="2.6" rx="0.5" fill="#f2f2f2" opacity="0.95"/><polygon points="105.3,444.5 164.6,444.5 164.2,452.6 105.0,452.6" fill="#f6f6f7"/><rect x="105" y="450.6" width="57.5" height="2.4" fill="#c9cacd" filter="url(#b05)"/><ellipse cx="129.2" cy="347.4" rx="8.9" ry="4.0" fill="#8f9095"/><path d="M97.1,348.3 Q97.1,346.8 98.6,346.8 L161.5,347.3 Q163.0,347.3 163.0,348.8 L164.7,445.8 L105.6,445.8 Z" fill="url(#gLid)"/><polygon points="97.3,346.9 162.8,347.4 163.2,356.8 98.1,356.3" fill="url(#gLidTop)"/><polygon points="97.6,349.8 101.6,349.8 109.1,445.8 105.6,445.8" fill="#eceded" opacity="0.9"/><polygon points="160.8,350.3 163.0,350.3 164.7,445.8 162.5,445.8" fill="#f0f0f2" opacity="0.9"/><rect x="124.3" y="350.8" width="1.7" height="25.4" fill="#bdbec4"/><rect x="126.0" y="350.8" width="1.4" height="25.4" fill="#f4f4f6"/><rect x="135.2" y="350.8" width="1.7" height="25.4" fill="#bdbec4"/><rect x="136.9" y="350.8" width="1.4" height="25.4" fill="#f4f4f6"/><rect x="127.2" y="424.1" width="1.7" height="20.2" fill="#bdbec4"/><rect x="128.9" y="424.1" width="1.4" height="20.2" fill="#f4f4f6"/><rect x="137.5" y="424.1" width="1.7" height="20.2" fill="#bdbec4"/><rect x="139.2" y="424.1" width="1.4" height="20.2" fill="#f4f4f6"/><ellipse cx="133.4" cy="399.9" rx="26.7" ry="26.7" fill="#d2d3d8"/><ellipse cx="133.0" cy="399.4" rx="26.2" ry="26.2" fill="#f1f2f4"/><ellipse cx="133.0" cy="399.4" rx="21.7" ry="20.2" fill="#e4e5e9"/><ellipse cx="133.0" cy="399.4" rx="21.3" ry="19.8" fill="#d9dbe1"/><rect x="104.2" y="438" width="1.4" height="8.5" fill="#77787c"/></g><g transform="matrix(1.049 0 0 1.049 -18.6 332.7)"><rect x="70.5" y="539.9" width="240.7" height="4.2" fill="#444" filter="url(#b2)" opacity="0.33"/><rect x="70.0" y="540.3" width="241.7" height="2.3" fill="#1c1c1e" filter="url(#b1)" opacity="0.50"/><path d="M101.5,420.3 L280.5,420.3 Q287.5,420.3 289.7,425.3 L312.0,483.8 Q313.2,486.8 313.2,491.8 L313.2,539.2 Q313.2,540.2 312.2,540.2 L69.5,540.2 Q68.5,540.2 68.5,539.2 L68.5,491.8 Q68.5,486.8 69.7,483.8 L92.0,427.3 Q94.5,420.3 101.5,420.3 Z" fill="url(#gTop)" stroke="#e2e4e8" stroke-width="1.5"/><path d="M68.5,495.8 Q68.5,492.8 72.5,492.8 L309.2,492.8 Q313.2,492.8 313.2,495.8 L313.2,539.4 Q313.2,540.2 312.2,540.2 L69.5,540.2 Q68.5,540.2 68.5,539.4 Z" fill="url(#gFront)"/><rect x="68.5" y="494.8" width="9" height="44.4" fill="url(#gEdgeL)"/><rect x="301.2" y="494.8" width="12" height="44.4" fill="url(#gEdgeR)"/><rect x="70.5" y="489.3" width="240.7" height="4.5" fill="#fff" opacity="0.9" filter="url(#b1)"/></g><g transform="translate(-7.5 352.5) scale(1)"><rect x="205.1" y="421.9" width="13.5" height="1.5" fill="#7e7e80" filter="url(#b05)"/><rect x="246.4" y="422.2" width="11.4" height="1.6" fill="#86827a" filter="url(#b05)"/><rect x="218.6" y="416.9" width="27.2" height="7.2" rx="0.8" fill="#fbfbfa" stroke="#dcdcdc" stroke-width="0.5"/><rect x="221.0" y="417.8" width="11.4" height="2.8" fill="#b9b6b2" opacity="0.7" filter="url(#b05)"/><rect x="222.8" y="418.4" width="2.2" height="1.7" fill="#f6f6f4"/><polygon points="181.8,426.1 289.8,426.1 298.4,481.8 180.0,482.3" fill="#eef0f2" stroke="#eef0f2" stroke-width="6.0" stroke-linejoin="round"/><polygon points="185.2,429.5 286.4,429.5 295.0,478.4 183.4,478.9" fill="url(#gBlue)" stroke="url(#gBlue)" stroke-width="5.0" stroke-linejoin="round"/><clipPath id="c3"><polygon points="183.3,427.6 288.3,427.6 296.9,480.3 181.5,480.8"/></clipPath><g clip-path="url(#c3)" filter="url(#b2)"><polygon points="180.2,469.4 180.6,456.9 187.5,449.8 195.2,446.6 195.0,470.5 186.9,473.8" fill="#3aa2f4" opacity="0.8"/><polygon points="279.4,450.7 287.6,454.0 296.8,462.6 298.8,474.4 290.9,475.5 282.6,474.5" fill="#25b4f4" opacity="0.9"/></g><clipPath id="p3"><polygon points="192.6,434.8 278.7,434.8 283.4,471.4 192.3,471.4"/></clipPath><polygon points="192.6,434.8 278.7,434.8 283.4,471.4 192.3,471.4" fill="url(#gSky)"/><g clip-path="url(#p3)"><ellipse cx="199.5" cy="453.8" rx="10.3" ry="5.9" fill="#ffffff" opacity="0.95" filter="url(#b1)"/><ellipse cx="219.2" cy="459.7" rx="17.2" ry="3.7" fill="#ffffff" opacity="0.8" filter="url(#b1)"/><ellipse cx="247.7" cy="457.5" rx="17.2" ry="2.9" fill="#ffffff" opacity="0.6" filter="url(#b1)"/><ellipse cx="270.0" cy="449.4" rx="8.6" ry="3.7" fill="#ffffff" opacity="0.8" filter="url(#b1)"/><ellipse cx="271.2" cy="436.6" rx="4.3" ry="3.3" fill="#ffffff" opacity="0.95" filter="url(#b1)"/><ellipse cx="196.5" cy="437.4" rx="4.3" ry="2.9" fill="#a6cf2e" opacity="0.95" filter="url(#b05)"/><ellipse cx="201.2" cy="440.7" rx="1.0" ry="1.1" fill="#9ccc3c" opacity="0.8" filter="url(#b05)"/><ellipse cx="206.5" cy="443.6" rx="0.9" ry="0.9" fill="#9ccc3c" opacity="0.7" filter="url(#b05)"/><polygon points="235.7,464.8 235.4,461.2 237.2,461.2 237.1,459.7 238.9,459.7 239.7,458.2 241.5,458.2 242.6,460.4 244.4,460.4 244.9,456.0 246.7,456.0 247.8,459.0 249.6,459.0 250.3,456.8 252.1,456.8 253.3,459.7 255.0,459.7 256.7,458.2 258.5,458.2 260.5,460.4 262.3,460.4 263.8,457.5 265.6,457.5 267.6,459.7 269.4,459.7 270.8,456.8 272.6,456.8 274.5,457.5 276.3,457.5 276.8,454.6 278.6,454.6 279.7,456.8 281.5,456.8 282.6,464.8" fill="#71889a" opacity="0.85"/><polygon points="192.3,465.5 192.4,461.7 195.8,463.9 199.3,461.7 202.8,463.9 206.2,461.7 209.7,463.9 213.1,461.7 216.6,463.9 220.0,461.7 223.5,463.9 226.9,461.7 230.5,463.9 233.8,461.7 237.4,463.9 240.6,460.6 244.3,462.8 247.5,460.6 251.2,462.8 254.4,460.6 258.1,462.8 261.4,461.7 265.1,463.9 268.3,461.7 272.0,463.9 275.2,461.7 279.0,463.9 282.2,461.7 282.6,465.5" fill="#4a9a2c" opacity="0.95"/><ellipse cx="237.6" cy="467.7" rx="38.7" ry="1.8" fill="#b4dc54" opacity="0.6" filter="url(#b1)"/><circle cx="212.6" cy="454.4" r="5.15" fill="#eaf3f8" opacity="0.85"/><circle cx="212.6" cy="454.4" r="4.48" fill="#e8287e"/><circle cx="212.1" cy="453.9" r="1.70" fill="none" stroke="#fff" stroke-width="1.07" opacity="0.85"/><rect x="207.6" y="460.1" width="10.3" height="1.1" fill="#1d2a30" opacity="0.7"/><circle cx="229.6" cy="454.4" r="5.15" fill="#eaf3f8" opacity="0.85"/><circle cx="229.6" cy="454.4" r="4.48" fill="#2a98d8"/><circle cx="229.2" cy="453.9" r="1.70" fill="none" stroke="#fff" stroke-width="1.07" opacity="0.85"/><rect x="224.8" y="460.1" width="10.3" height="1.1" fill="#1d2a30" opacity="0.7"/><circle cx="245.8" cy="454.4" r="5.15" fill="#eaf3f8" opacity="0.85"/><circle cx="245.8" cy="454.4" r="4.48" fill="#3cb07a"/><circle cx="245.3" cy="453.9" r="1.70" fill="none" stroke="#fff" stroke-width="1.07" opacity="0.85"/><rect x="241.1" y="460.1" width="10.3" height="1.1" fill="#1d2a30" opacity="0.7"/><circle cx="264.5" cy="454.4" r="5.15" fill="#eaf3f8" opacity="0.85"/><circle cx="264.5" cy="454.4" r="4.48" fill="#f08c1e"/><circle cx="264.1" cy="453.9" r="1.70" fill="none" stroke="#fff" stroke-width="1.07" opacity="0.85"/><rect x="260.0" y="460.1" width="10.3" height="1.1" fill="#1d2a30" opacity="0.7"/></g><text transform="translate(214.55 433.40)" font-family="&quot;Liberation Sans&quot;, &quot;Noto Sans CJK SC&quot;, sans-serif" font-size="6.1" font-weight="500" fill="#c4d8ff" opacity="0.85" filter="url(#b05)">食品安全检测仪</text><text transform="translate(216.29 446.88)" font-family="&quot;Liberation Sans&quot;, &quot;Noto Sans CJK SC&quot;, sans-serif" font-size="6.1" font-weight="500" fill="#f4faff" opacity="0.8" filter="url(#b05)">食品安全检测仪</text><text transform="translate(200.00 478.70)" font-family="&quot;Liberation Sans&quot;, &quot;Noto Sans CJK SC&quot;, sans-serif" font-size="6.67" font-weight="500" fill="#dbe7ff" opacity="0.9" filter="url(#b05)">山东云唐智能科技有限公司</text></g><g transform="matrix(1.049 0 0 1.049 -18.6 332.7)"><polygon points="90.5,499.2 160.1,499.2 159.6,508.6 91.0,508.6" fill="#e9eaec" filter="url(#b1)"/><polygon points="92.0,502.8 158.6,502.8 158.6,507.2 92.0,507.2" fill="#fcfcfd" filter="url(#b05)"/><polygon points="102.8,453.5 105.0,453.5 92.0,501.2 89.6,501.2" fill="#c6c9d0"/><polygon points="161.8,453.5 163.4,453.5 160.2,501.2 158.6,501.2" fill="#e6e7ea"/><path d="M105.0,453.5 L161.8,453.5 L158.6,499.2 Q158.4,501.2 156.4,501.2 L94.0,501.2 Q92.0,501.2 92.6,499.2 Z" fill="url(#gWell)"/><path d="M161.8,453.5 L158.6,499.2 Q158.4,501.2 156.4,501.2 L93.0,501.2 Z" fill="#0a0a0b"/><polygon points="106.0,458.3 112.9,458.3 104.9,491.7 97.2,491.7" fill="none" stroke="#56524a" stroke-width="0.4" opacity="0.8"/><rect x="116.4" y="459.7" width="8.6" height="3.8" rx="1.5" fill="#1a1a1c" opacity="1"/><circle cx="108.6" cy="461.6" r="0.9" fill="#e9e9e9" opacity="0.9"/><rect x="115.3" y="465.0" width="8.6" height="3.8" rx="1.5" fill="#1a1a1c" opacity="1"/><circle cx="107.3" cy="466.9" r="0.9" fill="#e9e9e9" opacity="0.9"/><rect x="114.2" y="470.2" width="8.6" height="3.8" rx="1.5" fill="#1a1a1c" opacity="1"/><circle cx="106.0" cy="472.1" r="0.9" fill="#e9e9e9" opacity="0.9"/><rect x="113.1" y="475.5" width="8.6" height="3.8" rx="1.5" fill="#1a1a1c" opacity="1"/><circle cx="104.7" cy="477.4" r="0.9" fill="#e9e9e9" opacity="0.9"/><rect x="111.9" y="480.9" width="8.6" height="3.8" rx="1.5" fill="#1a1a1c" opacity="1"/><circle cx="103.3" cy="482.8" r="0.9" fill="#e9e9e9" opacity="0.9"/><rect x="110.8" y="486.4" width="8.6" height="3.8" rx="1.5" fill="#000000" opacity="1"/><circle cx="101.9" cy="488.3" r="0.9" fill="#e9e9e9" opacity="0.9"/><polygon points="130.2,458.3 137.1,458.3 132.0,491.7 124.2,491.7" fill="none" stroke="#56524a" stroke-width="0.4" opacity="0.8"/><rect x="140.4" y="459.7" width="8.6" height="3.8" rx="1.5" fill="#1a1a1c" opacity="1"/><circle cx="133.1" cy="461.6" r="0.9" fill="#e9e9e9" opacity="0.9"/><rect x="139.7" y="465.0" width="8.6" height="3.8" rx="1.5" fill="#000000" opacity="1"/><circle cx="132.2" cy="466.9" r="0.9" fill="#e9e9e9" opacity="0.9"/><rect x="139.0" y="470.2" width="8.6" height="3.8" rx="1.5" fill="#000000" opacity="1"/><circle cx="131.3" cy="472.1" r="0.9" fill="#e9e9e9" opacity="0.9"/><rect x="138.4" y="475.5" width="8.6" height="3.8" rx="1.5" fill="#000000" opacity="1"/><circle cx="130.5" cy="477.4" r="0.9" fill="#e9e9e9" opacity="0.9"/><rect x="137.7" y="480.9" width="8.6" height="3.8" rx="1.5" fill="#000000" opacity="1"/><circle cx="129.5" cy="482.8" r="0.9" fill="#e9e9e9" opacity="0.9"/><rect x="137.0" y="486.4" width="8.6" height="3.8" rx="1.5" fill="#000000" opacity="1"/><circle cx="128.6" cy="488.3" r="0.9" fill="#e9e9e9" opacity="0.9"/><polygon points="105.3,444.5 164.6,444.5 164.2,452.6 105.0,452.6" fill="#f6f6f7"/><rect x="105" y="450.6" width="57.5" height="2.4" fill="#c9cacd" filter="url(#b05)"/><ellipse cx="129.2" cy="347.4" rx="8.9" ry="4.0" fill="#8f9095"/><path d="M97.1,348.3 Q97.1,346.8 98.6,346.8 L161.5,347.3 Q163.0,347.3 163.0,348.8 L164.7,445.8 L105.6,445.8 Z" fill="url(#gLid)"/><polygon points="97.3,346.9 162.8,347.4 163.2,356.8 98.1,356.3" fill="url(#gLidTop)"/><polygon points="97.6,349.8 101.6,349.8 109.1,445.8 105.6,445.8" fill="#eceded" opacity="0.9"/><polygon points="160.8,350.3 163.0,350.3 164.7,445.8 162.5,445.8" fill="#f0f0f2" opacity="0.9"/><rect x="124.3" y="350.8" width="1.7" height="25.4" fill="#bdbec4"/><rect x="126.0" y="350.8" width="1.4" height="25.4" fill="#f4f4f6"/><rect x="135.2" y="350.8" width="1.7" height="25.4" fill="#bdbec4"/><rect x="136.9" y="350.8" width="1.4" height="25.4" fill="#f4f4f6"/><rect x="127.2" y="424.1" width="1.7" height="20.2" fill="#bdbec4"/><rect x="128.9" y="424.1" width="1.4" height="20.2" fill="#f4f4f6"/><rect x="137.5" y="424.1" width="1.7" height="20.2" fill="#bdbec4"/><rect x="139.2" y="424.1" width="1.4" height="20.2" fill="#f4f4f6"/><ellipse cx="133.4" cy="399.9" rx="26.7" ry="26.7" fill="#d2d3d8"/><ellipse cx="133.0" cy="399.4" rx="26.2" ry="26.2" fill="#f1f2f4"/><ellipse cx="133.0" cy="399.4" rx="21.7" ry="20.2" fill="#e4e5e9"/><ellipse cx="133.0" cy="399.4" rx="21.3" ry="19.8" fill="#d9dbe1"/><rect x="104.2" y="438" width="1.4" height="8.5" fill="#77787c"/></g><g transform="matrix(1.048 0 0 1.048 258.3 332.0)"><rect x="70.5" y="539.9" width="240.7" height="4.2" fill="#444" filter="url(#b2)" opacity="0.54"/><rect x="70.0" y="540.3" width="241.7" height="2.3" fill="#1c1c1e" filter="url(#b1)" opacity="0.81"/><path d="M101.5,420.3 L280.5,420.3 Q287.5,420.3 289.7,425.3 L312.0,483.8 Q313.2,486.8 313.2,491.8 L313.2,539.2 Q313.2,540.2 312.2,540.2 L69.5,540.2 Q68.5,540.2 68.5,539.2 L68.5,491.8 Q68.5,486.8 69.7,483.8 L92.0,427.3 Q94.5,420.3 101.5,420.3 Z" fill="url(#gTop)" stroke="#e2e4e8" stroke-width="1.5"/><path d="M68.5,495.8 Q68.5,492.8 72.5,492.8 L309.2,492.8 Q313.2,492.8 313.2,495.8 L313.2,539.4 Q313.2,540.2 312.2,540.2 L69.5,540.2 Q68.5,540.2 68.5,539.4 Z" fill="url(#gFront)"/><rect x="68.5" y="494.8" width="9" height="44.4" fill="url(#gEdgeL)"/><rect x="301.2" y="494.8" width="12" height="44.4" fill="url(#gEdgeR)"/><rect x="70.5" y="489.3" width="240.7" height="4.5" fill="#fff" opacity="0.9" filter="url(#b1)"/></g><g transform="translate(273.6 362.7) scale(0.975)"><rect x="205.1" y="421.9" width="13.5" height="1.5" fill="#7e7e80" filter="url(#b05)"/><rect x="246.4" y="422.2" width="11.4" height="1.6" fill="#86827a" filter="url(#b05)"/><rect x="218.6" y="416.9" width="27.2" height="7.2" rx="0.8" fill="#fbfbfa" stroke="#dcdcdc" stroke-width="0.5"/><rect x="221.0" y="417.8" width="11.4" height="2.8" fill="#b9b6b2" opacity="0.7" filter="url(#b05)"/><rect x="222.8" y="418.4" width="2.2" height="1.7" fill="#f6f6f4"/><polygon points="181.8,426.1 289.8,426.1 298.4,481.8 180.0,482.3" fill="#eef0f2" stroke="#eef0f2" stroke-width="6.0" stroke-linejoin="round"/><polygon points="185.2,429.5 286.4,429.5 295.0,478.4 183.4,478.9" fill="url(#gBlue)" stroke="url(#gBlue)" stroke-width="5.0" stroke-linejoin="round"/><clipPath id="c4"><polygon points="183.3,427.6 288.3,427.6 296.9,480.3 181.5,480.8"/></clipPath><g clip-path="url(#c4)" filter="url(#b2)"><polygon points="180.2,469.4 180.6,456.9 187.5,449.8 195.2,446.6 195.0,470.5 186.9,473.8" fill="#3aa2f4" opacity="0.8"/><polygon points="279.4,450.7 287.6,454.0 296.8,462.6 298.8,474.4 290.9,475.5 282.6,474.5" fill="#25b4f4" opacity="0.9"/></g><clipPath id="p4"><polygon points="192.6,434.8 278.7,434.8 283.4,471.4 192.3,471.4"/></clipPath><polygon points="192.6,434.8 278.7,434.8 283.4,471.4 192.3,471.4" fill="url(#gSky)"/><g clip-path="url(#p4)"><ellipse cx="199.5" cy="453.8" rx="10.3" ry="5.9" fill="#ffffff" opacity="0.95" filter="url(#b1)"/><ellipse cx="219.2" cy="459.7" rx="17.2" ry="3.7" fill="#ffffff" opacity="0.8" filter="url(#b1)"/><ellipse cx="247.7" cy="457.5" rx="17.2" ry="2.9" fill="#ffffff" opacity="0.6" filter="url(#b1)"/><ellipse cx="270.0" cy="449.4" rx="8.6" ry="3.7" fill="#ffffff" opacity="0.8" filter="url(#b1)"/><ellipse cx="271.2" cy="436.6" rx="4.3" ry="3.3" fill="#ffffff" opacity="0.95" filter="url(#b1)"/><ellipse cx="196.5" cy="437.4" rx="4.3" ry="2.9" fill="#a6cf2e" opacity="0.95" filter="url(#b05)"/><ellipse cx="201.2" cy="440.7" rx="1.0" ry="1.1" fill="#9ccc3c" opacity="0.8" filter="url(#b05)"/><ellipse cx="206.5" cy="443.6" rx="0.9" ry="0.9" fill="#9ccc3c" opacity="0.7" filter="url(#b05)"/><polygon points="235.7,464.8 235.4,461.2 237.2,461.2 237.1,459.7 238.9,459.7 239.7,458.2 241.5,458.2 242.6,460.4 244.4,460.4 244.9,456.0 246.7,456.0 247.8,459.0 249.6,459.0 250.3,456.8 252.1,456.8 253.3,459.7 255.0,459.7 256.7,458.2 258.5,458.2 260.5,460.4 262.3,460.4 263.8,457.5 265.6,457.5 267.6,459.7 269.4,459.7 270.8,456.8 272.6,456.8 274.5,457.5 276.3,457.5 276.8,454.6 278.6,454.6 279.7,456.8 281.5,456.8 282.6,464.8" fill="#71889a" opacity="0.85"/><polygon points="192.3,465.5 192.4,461.7 195.8,463.9 199.3,461.7 202.8,463.9 206.2,461.7 209.7,463.9 213.1,461.7 216.6,463.9 220.0,461.7 223.5,463.9 226.9,461.7 230.5,463.9 233.8,461.7 237.4,463.9 240.6,460.6 244.3,462.8 247.5,460.6 251.2,462.8 254.4,460.6 258.1,462.8 261.4,461.7 265.1,463.9 268.3,461.7 272.0,463.9 275.2,461.7 279.0,463.9 282.2,461.7 282.6,465.5" fill="#4a9a2c" opacity="0.95"/><ellipse cx="237.6" cy="467.7" rx="38.7" ry="1.8" fill="#b4dc54" opacity="0.6" filter="url(#b1)"/><circle cx="212.6" cy="454.4" r="5.15" fill="#eaf3f8" opacity="0.85"/><circle cx="212.6" cy="454.4" r="4.48" fill="#e8287e"/><circle cx="212.1" cy="453.9" r="1.70" fill="none" stroke="#fff" stroke-width="1.07" opacity="0.85"/><rect x="207.6" y="460.1" width="10.3" height="1.1" fill="#1d2a30" opacity="0.7"/><circle cx="229.6" cy="454.4" r="5.15" fill="#eaf3f8" opacity="0.85"/><circle cx="229.6" cy="454.4" r="4.48" fill="#2a98d8"/><circle cx="229.2" cy="453.9" r="1.70" fill="none" stroke="#fff" stroke-width="1.07" opacity="0.85"/><rect x="224.8" y="460.1" width="10.3" height="1.1" fill="#1d2a30" opacity="0.7"/><circle cx="245.8" cy="454.4" r="5.15" fill="#eaf3f8" opacity="0.85"/><circle cx="245.8" cy="454.4" r="4.48" fill="#3cb07a"/><circle cx="245.3" cy="453.9" r="1.70" fill="none" stroke="#fff" stroke-width="1.07" opacity="0.85"/><rect x="241.1" y="460.1" width="10.3" height="1.1" fill="#1d2a30" opacity="0.7"/><circle cx="264.5" cy="454.4" r="5.15" fill="#eaf3f8" opacity="0.85"/><circle cx="264.5" cy="454.4" r="4.48" fill="#f08c1e"/><circle cx="264.1" cy="453.9" r="1.70" fill="none" stroke="#fff" stroke-width="1.07" opacity="0.85"/><rect x="260.0" y="460.1" width="10.3" height="1.1" fill="#1d2a30" opacity="0.7"/></g><text transform="translate(214.55 433.40)" font-family="&quot;Liberation Sans&quot;, &quot;Noto Sans CJK SC&quot;, sans-serif" font-size="6.1" font-weight="500" fill="#c4d8ff" opacity="0.85" filter="url(#b05)">食品安全检测仪</text><text transform="translate(216.29 446.88)" font-family="&quot;Liberation Sans&quot;, &quot;Noto Sans CJK SC&quot;, sans-serif" font-size="6.1" font-weight="500" fill="#f4faff" opacity="0.8" filter="url(#b05)">食品安全检测仪</text><text transform="translate(200.00 478.70)" font-family="&quot;Liberation Sans&quot;, &quot;Noto Sans CJK SC&quot;, sans-serif" font-size="6.67" font-weight="500" fill="#dbe7ff" opacity="0.9" filter="url(#b05)">山东云唐智能科技有限公司</text></g><g transform="matrix(1.048 0 0 1.048 258.3 332.0)"><polygon points="90.5,499.2 160.1,499.2 159.6,508.6 91.0,508.6" fill="#e9eaec" filter="url(#b1)"/><polygon points="92.0,502.8 158.6,502.8 158.6,507.2 92.0,507.2" fill="#fcfcfd" filter="url(#b05)"/><polygon points="102.8,453.5 105.0,453.5 92.0,501.2 89.6,501.2" fill="#c6c9d0"/><polygon points="161.8,453.5 163.4,453.5 160.2,501.2 158.6,501.2" fill="#e6e7ea"/><path d="M105.0,453.5 L161.8,453.5 L158.6,499.2 Q158.4,501.2 156.4,501.2 L94.0,501.2 Q92.0,501.2 92.6,499.2 Z" fill="url(#gWell)"/><path d="M105.0,453.5 L161.8,453.5 L158.6,499.2 Q158.4,501.2 156.4,501.2 L94.0,501.2 Q92.0,501.2 92.6,499.2 Z" fill="#252527"/><rect x="112.8" y="456.7" width="7.4" height="4.0" rx="1.4" fill="#050505" opacity="1"/><rect x="114.3" y="463.3" width="1.3" height="2.2" rx="0.5" fill="#f2f2f2" opacity="0.9"/><rect x="122.4" y="456.7" width="7.4" height="4.0" rx="1.4" fill="#050505" opacity="1"/><rect x="124.1" y="463.3" width="1.3" height="2.2" rx="0.5" fill="#f2f2f2" opacity="0.9"/><rect x="131.8" y="456.7" width="7.4" height="4.0" rx="1.4" fill="#050505" opacity="1"/><rect x="133.7" y="463.3" width="1.3" height="2.2" rx="0.5" fill="#f2f2f2" opacity="0.9"/><rect x="141.4" y="456.7" width="7.4" height="4.0" rx="1.4" fill="#050505" opacity="1"/><rect x="143.5" y="463.3" width="1.3" height="2.2" rx="0.5" fill="#f2f2f2" opacity="0.9"/><rect x="110.3" y="467.5" width="7.4" height="4.0" rx="1.4" fill="#050505" opacity="1"/><rect x="111.7" y="474.3" width="1.3" height="2.2" rx="0.5" fill="#f2f2f2" opacity="0.9"/><rect x="120.3" y="467.5" width="7.4" height="4.0" rx="1.4" fill="#050505" opacity="1"/><rect x="121.9" y="474.3" width="1.3" height="2.2" rx="0.5" fill="#f2f2f2" opacity="0.9"/><rect x="130.1" y="467.5" width="7.4" height="4.0" rx="1.4" fill="#050505" opacity="1"/><rect x="131.9" y="474.3" width="1.3" height="2.2" rx="0.5" fill="#f2f2f2" opacity="0.9"/><rect x="140.1" y="467.5" width="7.4" height="4.0" rx="1.4" fill="#050505" opacity="1"/><rect x="142.1" y="474.3" width="1.3" height="2.2" rx="0.5" fill="#f2f2f2" opacity="0.9"/><rect x="107.7" y="479.2" width="7.4" height="4.0" rx="1.4" fill="#050505" opacity="1"/><rect x="109.1" y="486.1" width="1.3" height="2.2" rx="0.5" fill="#f2f2f2" opacity="0.9"/><rect x="118.1" y="479.2" width="7.4" height="4.0" rx="1.4" fill="#050505" opacity="1"/><rect x="119.0" y="486.1" width="2.6" height="2.2" rx="0.5" fill="#f2f2f2" opacity="0.9"/><rect x="128.3" y="479.2" width="7.4" height="4.0" rx="1.4" fill="#050505" opacity="1"/><rect x="129.4" y="486.1" width="2.6" height="2.2" rx="0.5" fill="#f2f2f2" opacity="0.9"/><rect x="138.6" y="479.2" width="7.4" height="4.0" rx="1.4" fill="#050505" opacity="1"/><rect x="139.9" y="486.1" width="2.6" height="2.2" rx="0.5" fill="#f2f2f2" opacity="0.9"/><rect x="104.9" y="491.3" width="7.4" height="4.0" rx="1.4" fill="#050505" opacity="1"/><rect x="105.8" y="497.7" width="2.6" height="2.2" rx="0.5" fill="#f2f2f2" opacity="0.9"/><rect x="115.7" y="491.3" width="7.4" height="4.0" rx="1.4" fill="#050505" opacity="1"/><rect x="116.7" y="497.7" width="2.6" height="2.2" rx="0.5" fill="#f2f2f2" opacity="0.9"/><rect x="126.3" y="491.3" width="7.4" height="4.0" rx="1.4" fill="#050505" opacity="1"/><rect x="127.5" y="497.7" width="2.6" height="2.2" rx="0.5" fill="#f2f2f2" opacity="0.9"/><rect x="137.1" y="491.3" width="7.4" height="4.0" rx="1.4" fill="#050505" opacity="1"/><rect x="138.5" y="497.7" width="2.6" height="2.2" rx="0.5" fill="#f2f2f2" opacity="0.9"/><polygon points="105.3,444.5 164.6,444.5 164.2,452.6 105.0,452.6" fill="#f6f6f7"/><rect x="105" y="450.6" width="57.5" height="2.4" fill="#c9cacd" filter="url(#b05)"/><ellipse cx="129.2" cy="347.4" rx="8.9" ry="4.0" fill="#8f9095"/><path d="M97.1,348.3 Q97.1,346.8 98.6,346.8 L161.5,347.3 Q163.0,347.3 163.0,348.8 L164.7,445.8 L105.6,445.8 Z" fill="url(#gLid)"/><polygon points="97.3,346.9 162.8,347.4 163.2,356.8 98.1,356.3" fill="url(#gLidTop)"/><polygon points="97.6,349.8 101.6,349.8 109.1,445.8 105.6,445.8" fill="#eceded" opacity="0.9"/><polygon points="160.8,350.3 163.0,350.3 164.7,445.8 162.5,445.8" fill="#f0f0f2" opacity="0.9"/><rect x="124.3" y="350.8" width="1.7" height="25.4" fill="#bdbec4"/><rect x="126.0" y="350.8" width="1.4" height="25.4" fill="#f4f4f6"/><rect x="135.2" y="350.8" width="1.7" height="25.4" fill="#bdbec4"/><rect x="136.9" y="350.8" width="1.4" height="25.4" fill="#f4f4f6"/><rect x="127.2" y="424.1" width="1.7" height="20.2" fill="#bdbec4"/><rect x="128.9" y="424.1" width="1.4" height="20.2" fill="#f4f4f6"/><rect x="137.5" y="424.1" width="1.7" height="20.2" fill="#bdbec4"/><rect x="139.2" y="424.1" width="1.4" height="20.2" fill="#f4f4f6"/><ellipse cx="133.4" cy="399.9" rx="26.7" ry="26.7" fill="#d2d3d8"/><ellipse cx="133.0" cy="399.4" rx="26.2" ry="26.2" fill="#f1f2f4"/><ellipse cx="133.0" cy="399.4" rx="21.7" ry="20.2" fill="#e4e5e9"/><ellipse cx="133.0" cy="399.4" rx="21.3" ry="19.8" fill="#d9dbe1"/><rect x="104.2" y="438" width="1.4" height="8.5" fill="#77787c"/></g><g transform="matrix(1.017 0 0 1.03 539.6 341.2)"><rect x="70.5" y="539.9" width="240.7" height="4.2" fill="#444" filter="url(#b2)" opacity="0.54"/><rect x="70.0" y="540.3" width="241.7" height="2.3" fill="#1c1c1e" filter="url(#b1)" opacity="0.81"/><path d="M101.5,420.3 L280.5,420.3 Q287.5,420.3 289.7,425.3 L312.0,483.8 Q313.2,486.8 313.2,491.8 L313.2,539.2 Q313.2,540.2 312.2,540.2 L69.5,540.2 Q68.5,540.2 68.5,539.2 L68.5,491.8 Q68.5,486.8 69.7,483.8 L92.0,427.3 Q94.5,420.3 101.5,420.3 Z" fill="url(#gTop)" stroke="#e2e4e8" stroke-width="1.5"/><path d="M68.5,495.8 Q68.5,492.8 72.5,492.8 L309.2,492.8 Q313.2,492.8 313.2,495.8 L313.2,539.4 Q313.2,540.2 312.2,540.2 L69.5,540.2 Q68.5,540.2 68.5,539.4 Z" fill="url(#gFront)"/><rect x="68.5" y="494.8" width="9" height="44.4" fill="url(#gEdgeL)"/><rect x="301.2" y="494.8" width="12" height="44.4" fill="url(#gEdgeR)"/><rect x="70.5" y="489.3" width="240.7" height="4.5" fill="#fff" opacity="0.9" filter="url(#b1)"/></g><g transform="translate(549.6 362.7) scale(0.975)"><rect x="205.1" y="421.9" width="13.5" height="1.5" fill="#7e7e80" filter="url(#b05)"/><rect x="246.4" y="422.2" width="11.4" height="1.6" fill="#86827a" filter="url(#b05)"/><rect x="218.6" y="416.9" width="27.2" height="7.2" rx="0.8" fill="#fbfbfa" stroke="#dcdcdc" stroke-width="0.5"/><rect x="221.0" y="417.8" width="11.4" height="2.8" fill="#b9b6b2" opacity="0.7" filter="url(#b05)"/><rect x="222.8" y="418.4" width="2.2" height="1.7" fill="#f6f6f4"/><polygon points="181.8,426.1 289.8,426.1 298.4,481.8 180.0,482.3" fill="#eef0f2" stroke="#eef0f2" stroke-width="6.0" stroke-linejoin="round"/><polygon points="185.2,429.5 286.4,429.5 295.0,478.4 183.4,478.9" fill="url(#gBlue)" stroke="url(#gBlue)" stroke-width="5.0" stroke-linejoin="round"/><clipPath id="c5"><polygon points="183.3,427.6 288.3,427.6 296.9,480.3 181.5,480.8"/></clipPath><g clip-path="url(#c5)" filter="url(#b2)"><polygon points="180.2,469.4 180.6,456.9 187.5,449.8 195.2,446.6 195.0,470.5 186.9,473.8" fill="#3aa2f4" opacity="0.8"/><polygon points="279.4,450.7 287.6,454.0 296.8,462.6 298.8,474.4 290.9,475.5 282.6,474.5" fill="#25b4f4" opacity="0.9"/></g><clipPath id="p5"><polygon points="192.6,434.8 278.7,434.8 283.4,471.4 192.3,471.4"/></clipPath><polygon points="192.6,434.8 278.7,434.8 283.4,471.4 192.3,471.4" fill="url(#gSky)"/><g clip-path="url(#p5)"><ellipse cx="199.5" cy="453.8" rx="10.3" ry="5.9" fill="#ffffff" opacity="0.95" filter="url(#b1)"/><ellipse cx="219.2" cy="459.7" rx="17.2" ry="3.7" fill="#ffffff" opacity="0.8" filter="url(#b1)"/><ellipse cx="247.7" cy="457.5" rx="17.2" ry="2.9" fill="#ffffff" opacity="0.6" filter="url(#b1)"/><ellipse cx="270.0" cy="449.4" rx="8.6" ry="3.7" fill="#ffffff" opacity="0.8" filter="url(#b1)"/><ellipse cx="271.2" cy="436.6" rx="4.3" ry="3.3" fill="#ffffff" opacity="0.95" filter="url(#b1)"/><ellipse cx="196.5" cy="437.4" rx="4.3" ry="2.9" fill="#a6cf2e" opacity="0.95" filter="url(#b05)"/><ellipse cx="201.2" cy="440.7" rx="1.0" ry="1.1" fill="#9ccc3c" opacity="0.8" filter="url(#b05)"/><ellipse cx="206.5" cy="443.6" rx="0.9" ry="0.9" fill="#9ccc3c" opacity="0.7" filter="url(#b05)"/><polygon points="235.7,464.8 235.4,461.2 237.2,461.2 237.1,459.7 238.9,459.7 239.7,458.2 241.5,458.2 242.6,460.4 244.4,460.4 244.9,456.0 246.7,456.0 247.8,459.0 249.6,459.0 250.3,456.8 252.1,456.8 253.3,459.7 255.0,459.7 256.7,458.2 258.5,458.2 260.5,460.4 262.3,460.4 263.8,457.5 265.6,457.5 267.6,459.7 269.4,459.7 270.8,456.8 272.6,456.8 274.5,457.5 276.3,457.5 276.8,454.6 278.6,454.6 279.7,456.8 281.5,456.8 282.6,464.8" fill="#71889a" opacity="0.85"/><polygon points="192.3,465.5 192.4,461.7 195.8,463.9 199.3,461.7 202.8,463.9 206.2,461.7 209.7,463.9 213.1,461.7 216.6,463.9 220.0,461.7 223.5,463.9 226.9,461.7 230.5,463.9 233.8,461.7 237.4,463.9 240.6,460.6 244.3,462.8 247.5,460.6 251.2,462.8 254.4,460.6 258.1,462.8 261.4,461.7 265.1,463.9 268.3,461.7 272.0,463.9 275.2,461.7 279.0,463.9 282.2,461.7 282.6,465.5" fill="#4a9a2c" opacity="0.95"/><ellipse cx="237.6" cy="467.7" rx="38.7" ry="1.8" fill="#b4dc54" opacity="0.6" filter="url(#b1)"/><circle cx="212.6" cy="454.4" r="5.15" fill="#eaf3f8" opacity="0.85"/><circle cx="212.6" cy="454.4" r="4.48" fill="#e8287e"/><circle cx="212.1" cy="453.9" r="1.70" fill="none" stroke="#fff" stroke-width="1.07" opacity="0.85"/><rect x="207.6" y="460.1" width="10.3" height="1.1" fill="#1d2a30" opacity="0.7"/><circle cx="229.6" cy="454.4" r="5.15" fill="#eaf3f8" opacity="0.85"/><circle cx="229.6" cy="454.4" r="4.48" fill="#2a98d8"/><circle cx="229.2" cy="453.9" r="1.70" fill="none" stroke="#fff" stroke-width="1.07" opacity="0.85"/><rect x="224.8" y="460.1" width="10.3" height="1.1" fill="#1d2a30" opacity="0.7"/><circle cx="245.8" cy="454.4" r="5.15" fill="#eaf3f8" opacity="0.85"/><circle cx="245.8" cy="454.4" r="4.48" fill="#3cb07a"/><circle cx="245.3" cy="453.9" r="1.70" fill="none" stroke="#fff" stroke-width="1.07" opacity="0.85"/><rect x="241.1" y="460.1" width="10.3" height="1.1" fill="#1d2a30" opacity="0.7"/><circle cx="264.5" cy="454.4" r="5.15" fill="#eaf3f8" opacity="0.85"/><circle cx="264.5" cy="454.4" r="4.48" fill="#f08c1e"/><circle cx="264.1" cy="453.9" r="1.70" fill="none" stroke="#fff" stroke-width="1.07" opacity="0.85"/><rect x="260.0" y="460.1" width="10.3" height="1.1" fill="#1d2a30" opacity="0.7"/></g><text transform="translate(214.55 433.40)" font-family="&quot;Liberation Sans&quot;, &quot;Noto Sans CJK SC&quot;, sans-serif" font-size="6.1" font-weight="500" fill="#c4d8ff" opacity="0.85" filter="url(#b05)">食品安全检测仪</text><text transform="translate(216.29 446.88)" font-family="&quot;Liberation Sans&quot;, &quot;Noto Sans CJK SC&quot;, sans-serif" font-size="6.1" font-weight="500" fill="#f4faff" opacity="0.8" filter="url(#b05)">食品安全检测仪</text><text transform="translate(200.00 478.70)" font-family="&quot;Liberation Sans&quot;, &quot;Noto Sans CJK SC&quot;, sans-serif" font-size="6.67" font-weight="500" fill="#dbe7ff" opacity="0.9" filter="url(#b05)">山东云唐智能科技有限公司</text></g><g transform="matrix(1.017 0 0 1.03 539.6 341.2)"><polygon points="90.5,499.2 160.1,499.2 159.6,508.6 91.0,508.6" fill="#e9eaec" filter="url(#b1)"/><polygon points="92.0,502.8 158.6,502.8 158.6,507.2 92.0,507.2" fill="#fcfcfd" filter="url(#b05)"/><polygon points="102.8,453.5 105.0,453.5 92.0,501.2 89.6,501.2" fill="#c6c9d0"/><polygon points="161.8,453.5 163.4,453.5 160.2,501.2 158.6,501.2" fill="#e6e7ea"/><path d="M105.0,453.5 L161.8,453.5 L158.6,499.2 Q158.4,501.2 156.4,501.2 L94.0,501.2 Q92.0,501.2 92.6,499.2 Z" fill="url(#gWell)"/><path d="M105.0,453.5 L161.8,453.5 L158.6,499.2 Q158.4,501.2 156.4,501.2 L94.0,501.2 Q92.0,501.2 92.6,499.2 Z" fill="#1d1e1b"/><polygon points="104.0,461.6 160.1,461.6 159.8,465.9 102.8,465.9" fill="#3e3f3a" opacity="0.8"/><polygon points="101.2,472.1 159.3,472.1 159.0,476.3 100.0,476.3" fill="#3e3f3a" opacity="0.8"/><polygon points="98.1,483.3 158.5,483.3 158.2,487.6 97.0,487.6" fill="#3e3f3a" opacity="0.8"/><polygon points="94.7,496.2 157.6,496.2 157.3,500.5 93.5,500.5" fill="#3e3f3a" opacity="0.8"/><rect x="105.2" y="455.9" width="9.5" height="5.7" rx="1.6" fill="#55574d" opacity="1"/><rect x="105.8" y="456.5" width="8.3" height="4.5" rx="1.4" fill="#050505" opacity="1"/><rect x="107.7" y="462.7" width="1.3" height="2.2" rx="0.5" fill="#f2f2f2" opacity="0.8"/><rect x="115.8" y="455.9" width="9.5" height="5.7" rx="1.6" fill="#55574d" opacity="1"/><rect x="116.4" y="456.5" width="8.3" height="4.5" rx="1.4" fill="#050505" opacity="1"/><rect x="118.5" y="462.7" width="1.3" height="2.2" rx="0.5" fill="#f2f2f2" opacity="0.8"/><rect x="126.3" y="455.9" width="9.5" height="5.7" rx="1.6" fill="#55574d" opacity="1"/><rect x="126.9" y="456.5" width="8.3" height="4.5" rx="1.4" fill="#050505" opacity="1"/><rect x="129.2" y="462.7" width="1.3" height="2.2" rx="0.5" fill="#f2f2f2" opacity="0.8"/><rect x="137.0" y="455.9" width="9.5" height="5.7" rx="1.6" fill="#55574d" opacity="1"/><rect x="137.6" y="456.5" width="8.3" height="4.5" rx="1.4" fill="#050505" opacity="1"/><rect x="140.1" y="462.7" width="1.3" height="2.2" rx="0.5" fill="#f2f2f2" opacity="0.8"/><rect x="147.9" y="455.9" width="9.5" height="5.7" rx="1.6" fill="#55574d" opacity="1"/><rect x="148.5" y="456.5" width="8.3" height="4.5" rx="1.4" fill="#050505" opacity="1"/><rect x="151.2" y="462.7" width="1.3" height="2.2" rx="0.5" fill="#f2f2f2" opacity="0.8"/><rect x="102.6" y="466.4" width="9.5" height="5.7" rx="1.6" fill="#55574d" opacity="1"/><rect x="103.2" y="467.0" width="8.3" height="4.5" rx="1.4" fill="#050505" opacity="1"/><rect x="105.1" y="473.1" width="1.3" height="2.2" rx="0.5" fill="#f2f2f2" opacity="0.8"/><rect x="113.5" y="466.4" width="9.5" height="5.7" rx="1.6" fill="#55574d" opacity="1"/><rect x="114.1" y="467.0" width="8.3" height="4.5" rx="1.4" fill="#050505" opacity="1"/><circle cx="119.3" cy="470.2" r="0.7" fill="#c9a04a" opacity="0.9"/><rect x="116.3" y="473.1" width="1.3" height="2.2" rx="0.5" fill="#f2f2f2" opacity="0.8"/><rect x="124.5" y="466.4" width="9.5" height="5.7" rx="1.6" fill="#55574d" opacity="1"/><rect x="125.1" y="467.0" width="8.3" height="4.5" rx="1.4" fill="#050505" opacity="1"/><circle cx="130.3" cy="470.2" r="0.7" fill="#c9a04a" opacity="0.9"/><rect x="127.4" y="473.1" width="1.3" height="2.2" rx="0.5" fill="#f2f2f2" opacity="0.8"/><rect x="135.6" y="466.4" width="9.5" height="5.7" rx="1.6" fill="#55574d" opacity="1"/><rect x="136.2" y="467.0" width="8.3" height="4.5" rx="1.4" fill="#050505" opacity="1"/><circle cx="141.4" cy="470.2" r="0.7" fill="#c9a04a" opacity="0.9"/><rect x="138.7" y="473.1" width="1.3" height="2.2" rx="0.5" fill="#f2f2f2" opacity="0.8"/><rect x="146.9" y="466.4" width="9.5" height="5.7" rx="1.6" fill="#55574d" opacity="1"/><rect x="147.5" y="467.0" width="8.3" height="4.5" rx="1.4" fill="#050505" opacity="1"/><circle cx="152.7" cy="470.2" r="0.7" fill="#c9a04a" opacity="0.9"/><rect x="149.5" y="473.1" width="2.6" height="2.2" rx="0.5" fill="#f2f2f2" opacity="0.8"/><rect x="99.9" y="477.2" width="9.5" height="5.7" rx="1.6" fill="#55574d" opacity="1"/><rect x="100.5" y="477.8" width="8.3" height="4.5" rx="1.4" fill="#050505" opacity="1"/><rect x="101.6" y="484.4" width="2.6" height="2.2" rx="0.5" fill="#f2f2f2" opacity="0.8"/><rect x="111.3" y="477.2" width="9.5" height="5.7" rx="1.6" fill="#55574d" opacity="1"/><rect x="111.9" y="477.8" width="8.3" height="4.5" rx="1.4" fill="#050505" opacity="1"/><circle cx="117.1" cy="481.0" r="0.7" fill="#c9a04a" opacity="0.9"/><rect x="113.2" y="484.4" width="2.6" height="2.2" rx="0.5" fill="#f2f2f2" opacity="0.8"/><rect x="122.6" y="477.2" width="9.5" height="5.7" rx="1.6" fill="#55574d" opacity="1"/><rect x="123.2" y="477.8" width="8.3" height="4.5" rx="1.4" fill="#050505" opacity="1"/><circle cx="128.4" cy="481.0" r="0.7" fill="#c9a04a" opacity="0.9"/><rect x="124.8" y="484.4" width="2.6" height="2.2" rx="0.5" fill="#f2f2f2" opacity="0.8"/><rect x="134.1" y="477.2" width="9.5" height="5.7" rx="1.6" fill="#55574d" opacity="1"/><rect x="134.7" y="477.8" width="8.3" height="4.5" rx="1.4" fill="#050505" opacity="1"/><circle cx="140.0" cy="481.0" r="0.7" fill="#c9a04a" opacity="0.9"/><rect x="136.5" y="484.4" width="2.6" height="2.2" rx="0.5" fill="#f2f2f2" opacity="0.8"/><rect x="145.8" y="477.2" width="9.5" height="5.7" rx="1.6" fill="#55574d" opacity="1"/><rect x="146.4" y="477.8" width="8.3" height="4.5" rx="1.4" fill="#050505" opacity="1"/><circle cx="151.7" cy="481.0" r="0.7" fill="#c9a04a" opacity="0.9"/><rect x="148.4" y="484.4" width="2.6" height="2.2" rx="0.5" fill="#f2f2f2" opacity="0.8"/><rect x="96.9" y="489.0" width="9.5" height="5.7" rx="1.6" fill="#55574d" opacity="1"/><rect x="97.5" y="489.6" width="8.3" height="4.5" rx="1.4" fill="#050505" opacity="1"/><rect x="98.4" y="497.2" width="2.6" height="2.2" rx="0.5" fill="#f2f2f2" opacity="0.8"/><rect x="108.7" y="489.0" width="9.5" height="5.7" rx="1.6" fill="#55574d" opacity="1"/><rect x="109.3" y="489.6" width="8.3" height="4.5" rx="1.4" fill="#050505" opacity="1"/><rect x="110.5" y="497.2" width="2.6" height="2.2" rx="0.5" fill="#f2f2f2" opacity="0.8"/><rect x="120.5" y="489.0" width="9.5" height="5.7" rx="1.6" fill="#55574d" opacity="1"/><rect x="121.1" y="489.6" width="8.3" height="4.5" rx="1.4" fill="#050505" opacity="1"/><rect x="122.5" y="497.2" width="2.6" height="2.2" rx="0.5" fill="#f2f2f2" opacity="0.8"/><rect x="132.5" y="489.0" width="9.5" height="5.7" rx="1.6" fill="#55574d" opacity="1"/><rect x="133.1" y="489.6" width="8.3" height="4.5" rx="1.4" fill="#050505" opacity="1"/><rect x="134.7" y="497.2" width="2.6" height="2.2" rx="0.5" fill="#f2f2f2" opacity="0.8"/><rect x="144.6" y="489.0" width="9.5" height="5.7" rx="1.6" fill="#55574d" opacity="1"/><rect x="145.2" y="489.6" width="8.3" height="4.5" rx="1.4" fill="#050505" opacity="1"/><rect x="147.1" y="497.2" width="2.6" height="2.2" rx="0.5" fill="#f2f2f2" opacity="0.8"/><polygon points="105.3,444.5 164.6,444.5 164.2,452.6 105.0,452.6" fill="#f6f6f7"/><rect x="105" y="450.6" width="57.5" height="2.4" fill="#c9cacd" filter="url(#b05)"/><ellipse cx="129.2" cy="347.4" rx="8.9" ry="4.0" fill="#8f9095"/><path d="M97.1,348.3 Q97.1,346.8 98.6,346.8 L161.5,347.3 Q163.0,347.3 163.0,348.8 L164.7,445.8 L105.6,445.8 Z" fill="url(#gLid)"/><polygon points="97.3,346.9 162.8,347.4 163.2,356.8 98.1,356.3" fill="url(#gLidTop)"/><polygon points="97.6,349.8 101.6,349.8 109.1,445.8 105.6,445.8" fill="#eceded" opacity="0.9"/><polygon points="160.8,350.3 163.0,350.3 164.7,445.8 162.5,445.8" fill="#f0f0f2" opacity="0.9"/><rect x="124.3" y="350.8" width="1.7" height="25.4" fill="#bdbec4"/><rect x="126.0" y="350.8" width="1.4" height="25.4" fill="#f4f4f6"/><rect x="135.2" y="350.8" width="1.7" height="25.4" fill="#bdbec4"/><rect x="136.9" y="350.8" width="1.4" height="25.4" fill="#f4f4f6"/><rect x="127.2" y="424.1" width="1.7" height="20.2" fill="#bdbec4"/><rect x="128.9" y="424.1" width="1.4" height="20.2" fill="#f4f4f6"/><rect x="137.5" y="424.1" width="1.7" height="20.2" fill="#bdbec4"/><rect x="139.2" y="424.1" width="1.4" height="20.2" fill="#f4f4f6"/><ellipse cx="133.4" cy="399.9" rx="26.7" ry="26.7" fill="#d2d3d8"/><ellipse cx="133.0" cy="399.4" rx="26.2" ry="26.2" fill="#f1f2f4"/><ellipse cx="133.0" cy="399.4" rx="21.7" ry="20.2" fill="#e4e5e9"/><ellipse cx="133.0" cy="399.4" rx="21.3" ry="19.8" fill="#d9dbe1"/><rect x="104.2" y="438" width="1.4" height="8.5" fill="#77787c"/></g><g transform="matrix(1.04 0 0 1.035 809.3 342.3)"><rect x="70.5" y="539.9" width="240.7" height="4.2" fill="#444" filter="url(#b2)" opacity="0.15"/><rect x="70.0" y="540.3" width="241.7" height="2.3" fill="#1c1c1e" filter="url(#b1)" opacity="0.23"/><path d="M101.5,420.3 L280.5,420.3 Q287.5,420.3 289.7,425.3 L312.0,483.8 Q313.2,486.8 313.2,491.8 L313.2,539.2 Q313.2,540.2 312.2,540.2 L69.5,540.2 Q68.5,540.2 68.5,539.2 L68.5,491.8 Q68.5,486.8 69.7,483.8 L92.0,427.3 Q94.5,420.3 101.5,420.3 Z" fill="url(#gTop)" stroke="#e2e4e8" stroke-width="1.5"/><path d="M68.5,495.8 Q68.5,492.8 72.5,492.8 L309.2,492.8 Q313.2,492.8 313.2,495.8 L313.2,539.4 Q313.2,540.2 312.2,540.2 L69.5,540.2 Q68.5,540.2 68.5,539.4 Z" fill="url(#gFront)"/><rect x="68.5" y="494.8" width="9" height="44.4" fill="url(#gEdgeL)"/><rect x="301.2" y="494.8" width="12" height="44.4" fill="url(#gEdgeR)"/><rect x="70.5" y="489.3" width="240.7" height="4.5" fill="#fff" opacity="0.9" filter="url(#b1)"/></g><g transform="translate(818 356.7) scale(1)"><rect x="205.1" y="421.9" width="13.5" height="1.5" fill="#7e7e80" filter="url(#b05)"/><rect x="246.4" y="422.2" width="11.4" height="1.6" fill="#86827a" filter="url(#b05)"/><rect x="218.6" y="416.9" width="27.2" height="7.2" rx="0.8" fill="#fbfbfa" stroke="#dcdcdc" stroke-width="0.5"/><rect x="221.0" y="417.8" width="11.4" height="2.8" fill="#b9b6b2" opacity="0.7" filter="url(#b05)"/><rect x="222.8" y="418.4" width="2.2" height="1.7" fill="#f6f6f4"/><polygon points="181.8,426.1 289.8,426.1 298.4,481.8 180.0,482.3" fill="#eef0f2" stroke="#eef0f2" stroke-width="6.0" stroke-linejoin="round"/><polygon points="185.2,429.5 286.4,429.5 295.0,478.4 183.4,478.9" fill="url(#gBlue)" stroke="url(#gBlue)" stroke-width="5.0" stroke-linejoin="round"/><clipPath id="c6"><polygon points="183.3,427.6 288.3,427.6 296.9,480.3 181.5,480.8"/></clipPath><g clip-path="url(#c6)" filter="url(#b2)"><polygon points="180.2,469.4 180.6,456.9 187.5,449.8 195.2,446.6 195.0,470.5 186.9,473.8" fill="#3aa2f4" opacity="0.8"/><polygon points="279.4,450.7 287.6,454.0 296.8,462.6 298.8,474.4 290.9,475.5 282.6,474.5" fill="#25b4f4" opacity="0.9"/></g><clipPath id="p6"><polygon points="192.6,434.8 278.7,434.8 283.4,471.4 192.3,471.4"/></clipPath><polygon points="192.6,434.8 278.7,434.8 283.4,471.4 192.3,471.4" fill="url(#gSky)"/><g clip-path="url(#p6)"><ellipse cx="199.5" cy="453.8" rx="10.3" ry="5.9" fill="#ffffff" opacity="0.95" filter="url(#b1)"/><ellipse cx="219.2" cy="459.7" rx="17.2" ry="3.7" fill="#ffffff" opacity="0.8" filter="url(#b1)"/><ellipse cx="247.7" cy="457.5" rx="17.2" ry="2.9" fill="#ffffff" opacity="0.6" filter="url(#b1)"/><ellipse cx="270.0" cy="449.4" rx="8.6" ry="3.7" fill="#ffffff" opacity="0.8" filter="url(#b1)"/><ellipse cx="271.2" cy="436.6" rx="4.3" ry="3.3" fill="#ffffff" opacity="0.95" filter="url(#b1)"/><ellipse cx="196.5" cy="437.4" rx="4.3" ry="2.9" fill="#a6cf2e" opacity="0.95" filter="url(#b05)"/><ellipse cx="201.2" cy="440.7" rx="1.0" ry="1.1" fill="#9ccc3c" opacity="0.8" filter="url(#b05)"/><ellipse cx="206.5" cy="443.6" rx="0.9" ry="0.9" fill="#9ccc3c" opacity="0.7" filter="url(#b05)"/><polygon points="235.7,464.8 235.4,461.2 237.2,461.2 237.1,459.7 238.9,459.7 239.7,458.2 241.5,458.2 242.6,460.4 244.4,460.4 244.9,456.0 246.7,456.0 247.8,459.0 249.6,459.0 250.3,456.8 252.1,456.8 253.3,459.7 255.0,459.7 256.7,458.2 258.5,458.2 260.5,460.4 262.3,460.4 263.8,457.5 265.6,457.5 267.6,459.7 269.4,459.7 270.8,456.8 272.6,456.8 274.5,457.5 276.3,457.5 276.8,454.6 278.6,454.6 279.7,456.8 281.5,456.8 282.6,464.8" fill="#71889a" opacity="0.85"/><polygon points="192.3,465.5 192.4,461.7 195.8,463.9 199.3,461.7 202.8,463.9 206.2,461.7 209.7,463.9 213.1,461.7 216.6,463.9 220.0,461.7 223.5,463.9 226.9,461.7 230.5,463.9 233.8,461.7 237.4,463.9 240.6,460.6 244.3,462.8 247.5,460.6 251.2,462.8 254.4,460.6 258.1,462.8 261.4,461.7 265.1,463.9 268.3,461.7 272.0,463.9 275.2,461.7 279.0,463.9 282.2,461.7 282.6,465.5" fill="#4a9a2c" opacity="0.95"/><ellipse cx="237.6" cy="467.7" rx="38.7" ry="1.8" fill="#b4dc54" opacity="0.6" filter="url(#b1)"/><circle cx="212.6" cy="454.4" r="5.15" fill="#eaf3f8" opacity="0.85"/><circle cx="212.6" cy="454.4" r="4.48" fill="#e8287e"/><circle cx="212.1" cy="453.9" r="1.70" fill="none" stroke="#fff" stroke-width="1.07" opacity="0.85"/><rect x="207.6" y="460.1" width="10.3" height="1.1" fill="#1d2a30" opacity="0.7"/><circle cx="229.6" cy="454.4" r="5.15" fill="#eaf3f8" opacity="0.85"/><circle cx="229.6" cy="454.4" r="4.48" fill="#2a98d8"/><circle cx="229.2" cy="453.9" r="1.70" fill="none" stroke="#fff" stroke-width="1.07" opacity="0.85"/><rect x="224.8" y="460.1" width="10.3" height="1.1" fill="#1d2a30" opacity="0.7"/><circle cx="245.8" cy="454.4" r="5.15" fill="#eaf3f8" opacity="0.85"/><circle cx="245.8" cy="454.4" r="4.48" fill="#3cb07a"/><circle cx="245.3" cy="453.9" r="1.70" fill="none" stroke="#fff" stroke-width="1.07" opacity="0.85"/><rect x="241.1" y="460.1" width="10.3" height="1.1" fill="#1d2a30" opacity="0.7"/><circle cx="264.5" cy="454.4" r="5.15" fill="#eaf3f8" opacity="0.85"/><circle cx="264.5" cy="454.4" r="4.48" fill="#f08c1e"/><circle cx="264.1" cy="453.9" r="1.70" fill="none" stroke="#fff" stroke-width="1.07" opacity="0.85"/><rect x="260.0" y="460.1" width="10.3" height="1.1" fill="#1d2a30" opacity="0.7"/></g><text transform="translate(214.55 433.40)" font-family="&quot;Liberation Sans&quot;, &quot;Noto Sans CJK SC&quot;, sans-serif" font-size="6.1" font-weight="500" fill="#c4d8ff" opacity="0.85" filter="url(#b05)">食品安全检测仪</text><text transform="translate(216.29 446.88)" font-family="&quot;Liberation Sans&quot;, &quot;Noto Sans CJK SC&quot;, sans-serif" font-size="6.1" font-weight="500" fill="#f4faff" opacity="0.8" filter="url(#b05)">食品安全检测仪</text><text transform="translate(200.00 478.70)" font-family="&quot;Liberation Sans&quot;, &quot;Noto Sans CJK SC&quot;, sans-serif" font-size="6.67" font-weight="500" fill="#dbe7ff" opacity="0.9" filter="url(#b05)">山东云唐智能科技有限公司</text></g><g transform="matrix(1.04 0 0 1.035 809.3 342.3)"><polygon points="90.5,499.2 160.1,499.2 159.6,508.6 91.0,508.6" fill="#e9eaec" filter="url(#b1)"/><polygon points="92.0,502.8 158.6,502.8 158.6,507.2 92.0,507.2" fill="#fcfcfd" filter="url(#b05)"/><polygon points="102.8,453.5 105.0,453.5 92.0,501.2 89.6,501.2" fill="#c6c9d0"/><polygon points="161.8,453.5 163.4,453.5 160.2,501.2 158.6,501.2" fill="#e6e7ea"/><path d="M105.0,453.5 L161.8,453.5 L158.6,499.2 Q158.4,501.2 156.4,501.2 L94.0,501.2 Q92.0,501.2 92.6,499.2 Z" fill="url(#gWell)"/><path d="M105.0,453.5 L161.8,453.5 L158.6,499.2 Q158.4,501.2 156.4,501.2 L94.0,501.2 Q92.0,501.2 92.6,499.2 Z" fill="#1d1e1b"/><polygon points="104.1,461.2 160.1,461.2 159.8,465.5 102.9,465.5" fill="#3c3d38" opacity="0.8"/><polygon points="101.2,471.7 159.4,471.7 159.1,476.0 100.1,476.0" fill="#3c3d38" opacity="0.8"/><polygon points="98.0,483.7 158.5,483.7 158.2,488.0 96.9,488.0" fill="#3c3d38" opacity="0.8"/><polygon points="94.7,496.2 157.6,496.2 157.3,500.5 93.5,500.5" fill="#3c3d38" opacity="0.8"/><rect x="103.5" y="455.6" width="8.6" height="5.5" rx="1.6" fill="#525449" opacity="1"/><rect x="104.1" y="456.2" width="7.4" height="4.3" rx="1.4" fill="#050505" opacity="1"/><rect x="105.6" y="462.3" width="1.3" height="2.2" rx="0.5" fill="#f2f2f2" opacity="0.75"/><rect x="112.8" y="455.6" width="8.6" height="5.5" rx="1.6" fill="#525449" opacity="1"/><rect x="113.4" y="456.2" width="7.4" height="4.3" rx="1.4" fill="#050505" opacity="1"/><rect x="115.1" y="462.3" width="1.3" height="2.2" rx="0.5" fill="#f2f2f2" opacity="0.75"/><rect x="122.2" y="455.6" width="8.6" height="5.5" rx="1.6" fill="#525449" opacity="1"/><rect x="122.8" y="456.2" width="7.4" height="4.3" rx="1.4" fill="#050505" opacity="1"/><rect x="124.6" y="462.3" width="1.3" height="2.2" rx="0.5" fill="#f2f2f2" opacity="0.75"/><rect x="131.8" y="455.6" width="8.6" height="5.5" rx="1.6" fill="#525449" opacity="1"/><rect x="132.4" y="456.2" width="7.4" height="4.3" rx="1.4" fill="#050505" opacity="1"/><rect x="134.4" y="462.3" width="1.3" height="2.2" rx="0.5" fill="#f2f2f2" opacity="0.75"/><rect x="141.5" y="455.6" width="8.6" height="5.5" rx="1.6" fill="#525449" opacity="1"/><rect x="142.1" y="456.2" width="7.4" height="4.3" rx="1.4" fill="#050505" opacity="1"/><rect x="144.2" y="462.3" width="1.3" height="2.2" rx="0.5" fill="#f2f2f2" opacity="0.75"/><rect x="151.0" y="455.6" width="8.6" height="5.5" rx="1.6" fill="#525449" opacity="1"/><rect x="151.6" y="456.2" width="7.4" height="4.3" rx="1.4" fill="#050505" opacity="1"/><rect x="153.9" y="462.3" width="1.3" height="2.2" rx="0.5" fill="#f2f2f2" opacity="0.75"/><rect x="100.8" y="466.1" width="8.6" height="5.5" rx="1.6" fill="#525449" opacity="1"/><rect x="101.4" y="466.7" width="7.4" height="4.3" rx="1.4" fill="#050505" opacity="1"/><rect x="102.9" y="472.8" width="1.3" height="2.2" rx="0.5" fill="#f2f2f2" opacity="0.75"/><rect x="110.5" y="466.1" width="8.6" height="5.5" rx="1.6" fill="#525449" opacity="1"/><rect x="111.1" y="466.7" width="7.4" height="4.3" rx="1.4" fill="#050505" opacity="1"/><circle cx="115.8" cy="469.8" r="0.7" fill="#c9a04a" opacity="0.9"/><rect x="112.7" y="472.8" width="1.3" height="2.2" rx="0.5" fill="#f2f2f2" opacity="0.75"/><rect x="120.2" y="466.1" width="8.6" height="5.5" rx="1.6" fill="#525449" opacity="1"/><rect x="120.8" y="466.7" width="7.4" height="4.3" rx="1.4" fill="#050505" opacity="1"/><circle cx="125.5" cy="469.8" r="0.7" fill="#c9a04a" opacity="0.9"/><rect x="122.6" y="472.8" width="1.3" height="2.2" rx="0.5" fill="#f2f2f2" opacity="0.75"/><rect x="130.1" y="466.1" width="8.6" height="5.5" rx="1.6" fill="#525449" opacity="1"/><rect x="130.7" y="466.7" width="7.4" height="4.3" rx="1.4" fill="#050505" opacity="1"/><circle cx="135.5" cy="469.8" r="0.7" fill="#c9a04a" opacity="0.9"/><rect x="132.2" y="472.8" width="2.4" height="2.2" rx="0.5" fill="#f2f2f2" opacity="0.75"/><rect x="140.2" y="466.1" width="8.6" height="5.5" rx="1.6" fill="#525449" opacity="1"/><rect x="140.8" y="466.7" width="7.4" height="4.3" rx="1.4" fill="#050505" opacity="1"/><circle cx="145.5" cy="469.8" r="0.7" fill="#c9a04a" opacity="0.9"/><rect x="142.3" y="472.8" width="2.4" height="2.2" rx="0.5" fill="#f2f2f2" opacity="0.75"/><rect x="150.1" y="466.1" width="8.6" height="5.5" rx="1.6" fill="#525449" opacity="1"/><rect x="150.7" y="466.7" width="7.4" height="4.3" rx="1.4" fill="#050505" opacity="1"/><circle cx="155.5" cy="469.8" r="0.7" fill="#c9a04a" opacity="0.9"/><rect x="152.4" y="472.8" width="2.4" height="2.2" rx="0.5" fill="#f2f2f2" opacity="0.75"/><rect x="98.0" y="477.3" width="8.6" height="5.5" rx="1.6" fill="#525449" opacity="1"/><rect x="98.6" y="477.9" width="7.4" height="4.3" rx="1.4" fill="#050505" opacity="1"/><rect x="99.2" y="484.7" width="2.4" height="2.2" rx="0.5" fill="#f2f2f2" opacity="0.75"/><rect x="108.0" y="477.3" width="8.6" height="5.5" rx="1.6" fill="#525449" opacity="1"/><rect x="108.6" y="477.9" width="7.4" height="4.3" rx="1.4" fill="#050505" opacity="1"/><circle cx="113.3" cy="481.0" r="0.7" fill="#c9a04a" opacity="0.9"/><rect x="109.5" y="484.7" width="2.4" height="2.2" rx="0.5" fill="#f2f2f2" opacity="0.75"/><rect x="118.1" y="477.3" width="8.6" height="5.5" rx="1.6" fill="#525449" opacity="1"/><rect x="118.7" y="477.9" width="7.4" height="4.3" rx="1.4" fill="#050505" opacity="1"/><circle cx="123.4" cy="481.0" r="0.7" fill="#c9a04a" opacity="0.9"/><rect x="119.7" y="484.7" width="2.4" height="2.2" rx="0.5" fill="#f2f2f2" opacity="0.75"/><rect x="128.4" y="477.3" width="8.6" height="5.5" rx="1.6" fill="#525449" opacity="1"/><rect x="129.0" y="477.9" width="7.4" height="4.3" rx="1.4" fill="#050505" opacity="1"/><circle cx="133.8" cy="481.0" r="0.7" fill="#c9a04a" opacity="0.9"/><rect x="130.3" y="484.7" width="2.4" height="2.2" rx="0.5" fill="#f2f2f2" opacity="0.75"/><rect x="138.8" y="477.3" width="8.6" height="5.5" rx="1.6" fill="#525449" opacity="1"/><rect x="139.4" y="477.9" width="7.4" height="4.3" rx="1.4" fill="#050505" opacity="1"/><circle cx="144.2" cy="481.0" r="0.7" fill="#c9a04a" opacity="0.9"/><rect x="140.9" y="484.7" width="2.4" height="2.2" rx="0.5" fill="#f2f2f2" opacity="0.75"/><rect x="149.1" y="477.3" width="8.6" height="5.5" rx="1.6" fill="#525449" opacity="1"/><rect x="149.7" y="477.9" width="7.4" height="4.3" rx="1.4" fill="#050505" opacity="1"/><circle cx="154.5" cy="481.0" r="0.7" fill="#c9a04a" opacity="0.9"/><rect x="151.3" y="484.7" width="2.4" height="2.2" rx="0.5" fill="#f2f2f2" opacity="0.75"/><rect x="94.7" y="489.7" width="8.6" height="5.5" rx="1.6" fill="#525449" opacity="1"/><rect x="95.3" y="490.3" width="7.4" height="4.3" rx="1.4" fill="#050505" opacity="1"/><rect x="96.0" y="497.2" width="2.4" height="2.2" rx="0.5" fill="#f2f2f2" opacity="0.75"/><rect x="105.2" y="489.7" width="8.6" height="5.5" rx="1.6" fill="#525449" opacity="1"/><rect x="105.8" y="490.3" width="7.4" height="4.3" rx="1.4" fill="#050505" opacity="1"/><rect x="106.6" y="497.2" width="2.4" height="2.2" rx="0.5" fill="#f2f2f2" opacity="0.75"/><rect x="115.7" y="489.7" width="8.6" height="5.5" rx="1.6" fill="#525449" opacity="1"/><rect x="116.3" y="490.3" width="7.4" height="4.3" rx="1.4" fill="#050505" opacity="1"/><rect x="117.3" y="497.2" width="2.4" height="2.2" rx="0.5" fill="#f2f2f2" opacity="0.75"/><rect x="126.4" y="489.7" width="8.6" height="5.5" rx="1.6" fill="#525449" opacity="1"/><rect x="127.0" y="490.3" width="7.4" height="4.3" rx="1.4" fill="#050505" opacity="1"/><rect x="128.3" y="497.2" width="2.4" height="2.2" rx="0.5" fill="#f2f2f2" opacity="0.75"/><rect x="137.3" y="489.7" width="8.6" height="5.5" rx="1.6" fill="#525449" opacity="1"/><rect x="137.9" y="490.3" width="7.4" height="4.3" rx="1.4" fill="#050505" opacity="1"/><rect x="139.3" y="497.2" width="2.4" height="2.2" rx="0.5" fill="#f2f2f2" opacity="0.75"/><rect x="148.0" y="489.7" width="8.6" height="5.5" rx="1.6" fill="#525449" opacity="1"/><rect x="148.6" y="490.3" width="7.4" height="4.3" rx="1.4" fill="#050505" opacity="1"/><rect x="150.2" y="497.2" width="2.4" height="2.2" rx="0.5" fill="#f2f2f2" opacity="0.75"/><polygon points="105.3,444.5 164.6,444.5 164.2,452.6 105.0,452.6" fill="#f6f6f7"/><rect x="105" y="450.6" width="57.5" height="2.4" fill="#c9cacd" filter="url(#b05)"/><ellipse cx="129.2" cy="347.4" rx="8.9" ry="4.0" fill="#8f9095"/><path d="M97.1,348.3 Q97.1,346.8 98.6,346.8 L161.5,347.3 Q163.0,347.3 163.0,348.8 L164.7,445.8 L105.6,445.8 Z" fill="url(#gLid)"/><polygon points="97.3,346.9 162.8,347.4 163.2,356.8 98.1,356.3" fill="url(#gLidTop)"/><polygon points="97.6,349.8 101.6,349.8 109.1,445.8 105.6,445.8" fill="#eceded" opacity="0.9"/><polygon points="160.8,350.3 163.0,350.3 164.7,445.8 162.5,445.8" fill="#f0f0f2" opacity="0.9"/><rect x="124.3" y="350.8" width="1.7" height="25.4" fill="#bdbec4"/><rect x="126.0" y="350.8" width="1.4" height="25.4" fill="#f4f4f6"/><rect x="135.2" y="350.8" width="1.7" height="25.4" fill="#bdbec4"/><rect x="136.9" y="350.8" width="1.4" height="25.4" fill="#f4f4f6"/><rect x="127.2" y="424.1" width="1.7" height="20.2" fill="#bdbec4"/><rect x="128.9" y="424.1" width="1.4" height="20.2" fill="#f4f4f6"/><rect x="137.5" y="424.1" width="1.7" height="20.2" fill="#bdbec4"/><rect x="139.2" y="424.1" width="1.4" height="20.2" fill="#f4f4f6"/><ellipse cx="133.4" cy="399.9" rx="26.7" ry="26.7" fill="#d2d3d8"/><ellipse cx="133.0" cy="399.4" rx="26.2" ry="26.2" fill="#f1f2f4"/><ellipse cx="133.0" cy="399.4" rx="21.7" ry="20.2" fill="#e4e5e9"/><ellipse cx="133.0" cy="399.4" rx="21.3" ry="19.8" fill="#d9dbe1"/><rect x="104.2" y="438" width="1.4" height="8.5" fill="#77787c"/></g>
<polygon points="68,239 138,239 138,301 101.5,291.5 68,301" fill="#dc282c"/><g fill="#fff" font-family="&quot;Liberation Sans&quot;, &quot;Noto Sans CJK SC&quot;, sans-serif" font-size="23.3"><text x="80.9 105.8" y="286.1">通道</text></g>
<polygon points="478,239 548,239 548,301 511.5,291.5 478,301" fill="#dc282c"/><g fill="#fff" font-family="&quot;Liberation Sans&quot;, &quot;Noto Sans CJK SC&quot;, sans-serif" font-size="23.3"><text x="490.9 515.8" y="286.1">通道</text></g>
<polygon points="878,239 948,239 948,301 911.5,291.5 878,301" fill="#dc282c"/><g fill="#fff" font-family="&quot;Liberation Sans&quot;, &quot;Noto Sans CJK SC&quot;, sans-serif" font-size="23.3"><text x="889 913.9" y="286.1">通道</text></g>
<polygon points="68,598 138,598 138,660 101.5,650.5 68,660" fill="#dc282c"/><g fill="#fff" font-family="&quot;Liberation Sans&quot;, &quot;Noto Sans CJK SC&quot;, sans-serif" font-size="23.3"><text x="80.6 105.5" y="645.1">通道</text></g>
<polygon points="336,598 406,598 406,660 369.5,650.5 336,660" fill="#dc282c"/><g fill="#fff" font-family="&quot;Liberation Sans&quot;, &quot;Noto Sans CJK SC&quot;, sans-serif" font-size="23.3"><text x="348.6 373.5" y="645.1">通道</text></g>
<polygon points="601,598 671,598 671,660 634.5,650.5 601,660" fill="#dc282c"/><g fill="#fff" font-family="&quot;Liberation Sans&quot;, &quot;Noto Sans CJK SC&quot;, sans-serif" font-size="23.3"><text x="612.3 637.2" y="645.1">通道</text></g>
<polygon points="883,598 953,598 953,660 916.5,650.5 883,660" fill="#dc282c"/><g fill="#fff" font-family="&quot;Liberation Sans&quot;, &quot;Noto Sans CJK SC&quot;, sans-serif" font-size="23.3"><text x="895.7 920.6" y="645.1">通道</text></g></svg>
<h1>检测通道</h1>
<h2><span style="left:415.6px">DETECTION</span> <span style="left:621.8px">CHANNEL</span></h2>
<div class="tn" style="left:68px;top:239px">6</div><div class="tc" style="left:68px;top:265px">通道</div>
<div class="tn" style="left:478px;top:239px">8</div><div class="tc" style="left:478px;top:265px">通道</div>
<div class="tn" style="left:876.1px;top:239px">10</div><div class="tc" style="left:876.1px;top:265px">通道</div>
<div class="tn" style="left:67.7px;top:598px">12</div><div class="tc" style="left:67.7px;top:624px">通道</div>
<div class="tn" style="left:335.7px;top:598px">16</div><div class="tc" style="left:335.7px;top:624px">通道</div>
<div class="tn" style="left:599.4px;top:598px">20</div><div class="tc" style="left:599.4px;top:624px">通道</div>
<div class="tn" style="left:882.8px;top:598px">24</div><div class="tc" style="left:882.8px;top:624px">通道</div>
</body></html>
